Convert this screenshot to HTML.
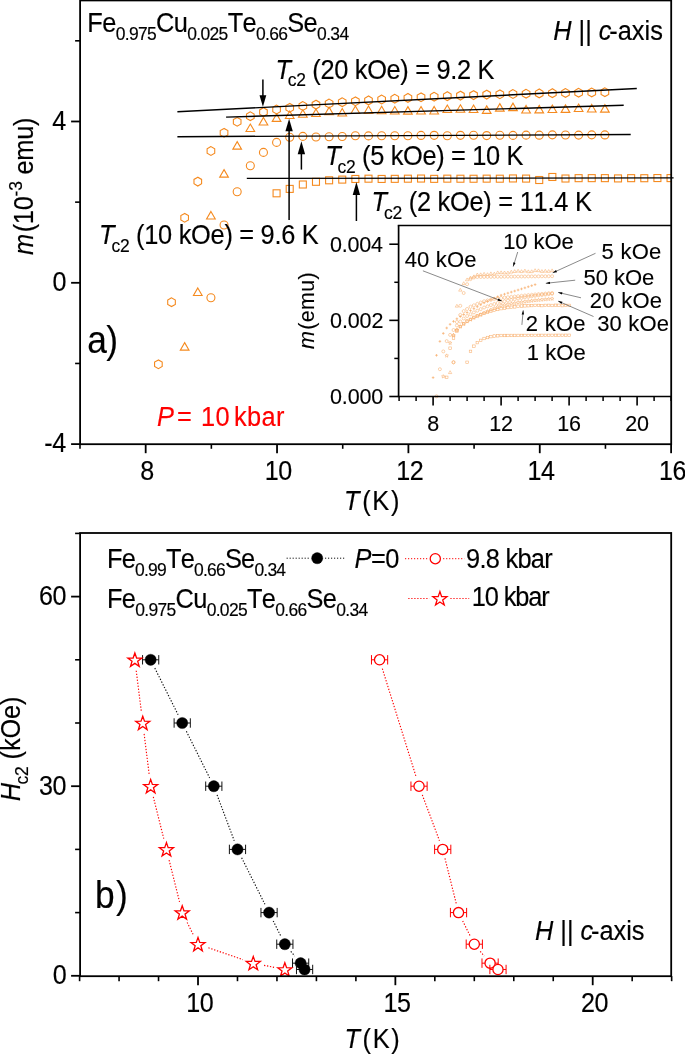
<!DOCTYPE html>
<html><head><meta charset="utf-8"><title>Figure</title>
<style>html,body{margin:0;padding:0;background:#fff;}svg{display:block;}</style></head>
<body><svg width="685" height="1054" viewBox="0 0 685 1054" font-family="'Liberation Sans', sans-serif" style="font-kerning:none">
<rect width="685" height="1054" fill="#fff"/>
<g id="panelA">
<clipPath id="clipA"><rect x="80.1" y="0" width="591.10" height="444.20"/></clipPath>
<g clip-path="url(#clipA)">
<polygon points="158.39,359.90 154.58,362.10 154.58,366.50 158.39,368.70 162.20,366.50 162.20,362.10" fill="none" stroke="#f58a1f" stroke-width="1.1"/>
<polygon points="171.52,297.80 167.71,300.00 167.71,304.40 171.52,306.60 175.33,304.40 175.33,300.00" fill="none" stroke="#f58a1f" stroke-width="1.1"/>
<polygon points="184.66,213.40 180.85,215.60 180.85,220.00 184.66,222.20 188.47,220.00 188.47,215.60" fill="none" stroke="#f58a1f" stroke-width="1.1"/>
<polygon points="197.79,177.20 193.98,179.40 193.98,183.80 197.79,186.00 201.60,183.80 201.60,179.40" fill="none" stroke="#f58a1f" stroke-width="1.1"/>
<polygon points="210.92,146.60 207.11,148.80 207.11,153.20 210.92,155.40 214.73,153.20 214.73,148.80" fill="none" stroke="#f58a1f" stroke-width="1.1"/>
<polygon points="224.05,128.40 220.24,130.60 220.24,135.00 224.05,137.20 227.86,135.00 227.86,130.60" fill="none" stroke="#f58a1f" stroke-width="1.1"/>
<polygon points="237.18,117.40 233.37,119.60 233.37,124.00 237.18,126.20 240.99,124.00 240.99,119.60" fill="none" stroke="#f58a1f" stroke-width="1.1"/>
<polygon points="250.32,111.80 246.51,114.00 246.51,118.40 250.32,120.60 254.13,118.40 254.13,114.00" fill="none" stroke="#f58a1f" stroke-width="1.1"/>
<polygon points="263.45,107.70 259.64,109.90 259.64,114.30 263.45,116.50 267.26,114.30 267.26,109.90" fill="none" stroke="#f58a1f" stroke-width="1.1"/>
<polygon points="276.58,105.10 272.77,107.30 272.77,111.70 276.58,113.90 280.39,111.70 280.39,107.30" fill="none" stroke="#f58a1f" stroke-width="1.1"/>
<polygon points="289.71,103.40 285.90,105.60 285.90,110.00 289.71,112.20 293.52,110.00 293.52,105.60" fill="none" stroke="#f58a1f" stroke-width="1.1"/>
<polygon points="302.84,101.60 299.03,103.80 299.03,108.20 302.84,110.40 306.65,108.20 306.65,103.80" fill="none" stroke="#f58a1f" stroke-width="1.1"/>
<polygon points="315.98,100.20 312.17,102.40 312.17,106.80 315.98,109.00 319.79,106.80 319.79,102.40" fill="none" stroke="#f58a1f" stroke-width="1.1"/>
<polygon points="329.11,99.10 325.30,101.30 325.30,105.70 329.11,107.90 332.92,105.70 332.92,101.30" fill="none" stroke="#f58a1f" stroke-width="1.1"/>
<polygon points="342.24,97.80 338.43,100.00 338.43,104.40 342.24,106.60 346.05,104.40 346.05,100.00" fill="none" stroke="#f58a1f" stroke-width="1.1"/>
<polygon points="355.37,96.90 351.56,99.10 351.56,103.50 355.37,105.70 359.18,103.50 359.18,99.10" fill="none" stroke="#f58a1f" stroke-width="1.1"/>
<polygon points="368.50,96.00 364.69,98.20 364.69,102.60 368.50,104.80 372.31,102.60 372.31,98.20" fill="none" stroke="#f58a1f" stroke-width="1.1"/>
<polygon points="381.64,95.10 377.83,97.30 377.83,101.70 381.64,103.90 385.45,101.70 385.45,97.30" fill="none" stroke="#f58a1f" stroke-width="1.1"/>
<polygon points="394.77,94.30 390.96,96.50 390.96,100.90 394.77,103.10 398.58,100.90 398.58,96.50" fill="none" stroke="#f58a1f" stroke-width="1.1"/>
<polygon points="407.90,93.50 404.09,95.70 404.09,100.10 407.90,102.30 411.71,100.10 411.71,95.70" fill="none" stroke="#f58a1f" stroke-width="1.1"/>
<polygon points="421.03,92.90 417.22,95.10 417.22,99.50 421.03,101.70 424.84,99.50 424.84,95.10" fill="none" stroke="#f58a1f" stroke-width="1.1"/>
<polygon points="434.16,92.30 430.35,94.50 430.35,98.90 434.16,101.10 437.97,98.90 437.97,94.50" fill="none" stroke="#f58a1f" stroke-width="1.1"/>
<polygon points="447.30,91.75 443.49,93.95 443.49,98.35 447.30,100.55 451.11,98.35 451.11,93.95" fill="none" stroke="#f58a1f" stroke-width="1.1"/>
<polygon points="460.43,91.20 456.62,93.40 456.62,97.80 460.43,100.00 464.24,97.80 464.24,93.40" fill="none" stroke="#f58a1f" stroke-width="1.1"/>
<polygon points="473.56,90.70 469.75,92.90 469.75,97.30 473.56,99.50 477.37,97.30 477.37,92.90" fill="none" stroke="#f58a1f" stroke-width="1.1"/>
<polygon points="486.69,90.20 482.88,92.40 482.88,96.80 486.69,99.00 490.50,96.80 490.50,92.40" fill="none" stroke="#f58a1f" stroke-width="1.1"/>
<polygon points="499.82,89.90 496.01,92.10 496.01,96.50 499.82,98.70 503.63,96.50 503.63,92.10" fill="none" stroke="#f58a1f" stroke-width="1.1"/>
<polygon points="512.96,89.60 509.15,91.80 509.15,96.20 512.96,98.40 516.77,96.20 516.77,91.80" fill="none" stroke="#f58a1f" stroke-width="1.1"/>
<polygon points="526.09,89.30 522.28,91.50 522.28,95.90 526.09,98.10 529.90,95.90 529.90,91.50" fill="none" stroke="#f58a1f" stroke-width="1.1"/>
<polygon points="539.22,89.00 535.41,91.20 535.41,95.60 539.22,97.80 543.03,95.60 543.03,91.20" fill="none" stroke="#f58a1f" stroke-width="1.1"/>
<polygon points="552.35,88.76 548.54,90.96 548.54,95.36 552.35,97.56 556.16,95.36 556.16,90.96" fill="none" stroke="#f58a1f" stroke-width="1.1"/>
<polygon points="565.48,88.52 561.67,90.72 561.67,95.12 565.48,97.32 569.29,95.12 569.29,90.72" fill="none" stroke="#f58a1f" stroke-width="1.1"/>
<polygon points="578.62,88.28 574.81,90.48 574.81,94.88 578.62,97.08 582.43,94.88 582.43,90.48" fill="none" stroke="#f58a1f" stroke-width="1.1"/>
<polygon points="591.75,88.04 587.94,90.24 587.94,94.64 591.75,96.84 595.56,94.64 595.56,90.24" fill="none" stroke="#f58a1f" stroke-width="1.1"/>
<polygon points="604.88,87.80 601.07,90.00 601.07,94.40 604.88,96.60 608.69,94.40 608.69,90.00" fill="none" stroke="#f58a1f" stroke-width="1.1"/>
<polygon points="184.66,342.65 189.01,350.15 180.31,350.15" fill="none" stroke="#f58a1f" stroke-width="1.1"/>
<polygon points="197.79,287.95 202.14,295.45 193.44,295.45" fill="none" stroke="#f58a1f" stroke-width="1.1"/>
<polygon points="210.92,211.45 215.27,218.95 206.57,218.95" fill="none" stroke="#f58a1f" stroke-width="1.1"/>
<polygon points="224.05,169.65 228.40,177.15 219.70,177.15" fill="none" stroke="#f58a1f" stroke-width="1.1"/>
<polygon points="237.18,141.65 241.53,149.15 232.83,149.15" fill="none" stroke="#f58a1f" stroke-width="1.1"/>
<polygon points="250.32,124.05 254.67,131.55 245.97,131.55" fill="none" stroke="#f58a1f" stroke-width="1.1"/>
<polygon points="263.45,117.45 267.80,124.95 259.10,124.95" fill="none" stroke="#f58a1f" stroke-width="1.1"/>
<polygon points="276.58,113.85 280.93,121.35 272.23,121.35" fill="none" stroke="#f58a1f" stroke-width="1.1"/>
<polygon points="289.71,111.05 294.06,118.55 285.36,118.55" fill="none" stroke="#f58a1f" stroke-width="1.1"/>
<polygon points="302.84,109.75 307.19,117.25 298.49,117.25" fill="none" stroke="#f58a1f" stroke-width="1.1"/>
<polygon points="315.98,108.95 320.33,116.45 311.63,116.45" fill="none" stroke="#f58a1f" stroke-width="1.1"/>
<polygon points="329.11,107.15 333.46,114.65 324.76,114.65" fill="none" stroke="#f58a1f" stroke-width="1.1"/>
<polygon points="342.24,108.55 346.59,116.05 337.89,116.05" fill="none" stroke="#f58a1f" stroke-width="1.1"/>
<polygon points="355.37,106.05 359.72,113.55 351.02,113.55" fill="none" stroke="#f58a1f" stroke-width="1.1"/>
<polygon points="368.50,106.05 372.85,113.55 364.15,113.55" fill="none" stroke="#f58a1f" stroke-width="1.1"/>
<polygon points="381.64,106.25 385.99,113.75 377.29,113.75" fill="none" stroke="#f58a1f" stroke-width="1.1"/>
<polygon points="394.77,106.55 399.12,114.05 390.42,114.05" fill="none" stroke="#f58a1f" stroke-width="1.1"/>
<polygon points="407.90,106.65 412.25,114.15 403.55,114.15" fill="none" stroke="#f58a1f" stroke-width="1.1"/>
<polygon points="421.03,106.55 425.38,114.05 416.68,114.05" fill="none" stroke="#f58a1f" stroke-width="1.1"/>
<polygon points="434.16,106.45 438.51,113.95 429.81,113.95" fill="none" stroke="#f58a1f" stroke-width="1.1"/>
<polygon points="447.30,105.05 451.65,112.55 442.95,112.55" fill="none" stroke="#f58a1f" stroke-width="1.1"/>
<polygon points="460.43,104.75 464.78,112.25 456.08,112.25" fill="none" stroke="#f58a1f" stroke-width="1.1"/>
<polygon points="473.56,105.05 477.91,112.55 469.21,112.55" fill="none" stroke="#f58a1f" stroke-width="1.1"/>
<polygon points="486.69,105.85 491.04,113.35 482.34,113.35" fill="none" stroke="#f58a1f" stroke-width="1.1"/>
<polygon points="499.82,103.65 504.17,111.15 495.47,111.15" fill="none" stroke="#f58a1f" stroke-width="1.1"/>
<polygon points="512.96,103.15 517.31,110.65 508.61,110.65" fill="none" stroke="#f58a1f" stroke-width="1.1"/>
<polygon points="526.09,105.45 530.44,112.95 521.74,112.95" fill="none" stroke="#f58a1f" stroke-width="1.1"/>
<polygon points="539.22,105.35 543.57,112.85 534.87,112.85" fill="none" stroke="#f58a1f" stroke-width="1.1"/>
<polygon points="552.35,105.05 556.70,112.55 548.00,112.55" fill="none" stroke="#f58a1f" stroke-width="1.1"/>
<polygon points="565.48,104.85 569.83,112.35 561.13,112.35" fill="none" stroke="#f58a1f" stroke-width="1.1"/>
<polygon points="578.62,104.05 582.97,111.55 574.27,111.55" fill="none" stroke="#f58a1f" stroke-width="1.1"/>
<polygon points="591.75,104.45 596.10,111.95 587.40,111.95" fill="none" stroke="#f58a1f" stroke-width="1.1"/>
<polygon points="604.88,104.65 609.23,112.15 600.53,112.15" fill="none" stroke="#f58a1f" stroke-width="1.1"/>
<circle cx="210.92" cy="297.80" r="4.0" fill="none" stroke="#f58a1f" stroke-width="1.1"/>
<circle cx="224.05" cy="225.00" r="4.0" fill="none" stroke="#f58a1f" stroke-width="1.1"/>
<circle cx="237.18" cy="191.80" r="4.0" fill="none" stroke="#f58a1f" stroke-width="1.1"/>
<circle cx="250.32" cy="165.80" r="4.0" fill="none" stroke="#f58a1f" stroke-width="1.1"/>
<circle cx="263.45" cy="152.40" r="4.0" fill="none" stroke="#f58a1f" stroke-width="1.1"/>
<circle cx="276.58" cy="142.40" r="4.0" fill="none" stroke="#f58a1f" stroke-width="1.1"/>
<circle cx="289.71" cy="137.20" r="4.0" fill="none" stroke="#f58a1f" stroke-width="1.1"/>
<circle cx="302.84" cy="136.40" r="4.0" fill="none" stroke="#f58a1f" stroke-width="1.1"/>
<circle cx="315.98" cy="137.00" r="4.0" fill="none" stroke="#f58a1f" stroke-width="1.1"/>
<circle cx="329.11" cy="136.80" r="4.0" fill="none" stroke="#f58a1f" stroke-width="1.1"/>
<circle cx="342.24" cy="136.50" r="4.0" fill="none" stroke="#f58a1f" stroke-width="1.1"/>
<circle cx="355.37" cy="135.81" r="4.0" fill="none" stroke="#f58a1f" stroke-width="1.1"/>
<circle cx="368.50" cy="135.90" r="4.0" fill="none" stroke="#f58a1f" stroke-width="1.1"/>
<circle cx="381.64" cy="135.75" r="4.0" fill="none" stroke="#f58a1f" stroke-width="1.1"/>
<circle cx="394.77" cy="135.81" r="4.0" fill="none" stroke="#f58a1f" stroke-width="1.1"/>
<circle cx="407.90" cy="135.76" r="4.0" fill="none" stroke="#f58a1f" stroke-width="1.1"/>
<circle cx="421.03" cy="135.42" r="4.0" fill="none" stroke="#f58a1f" stroke-width="1.1"/>
<circle cx="434.16" cy="135.34" r="4.0" fill="none" stroke="#f58a1f" stroke-width="1.1"/>
<circle cx="447.30" cy="135.69" r="4.0" fill="none" stroke="#f58a1f" stroke-width="1.1"/>
<circle cx="460.43" cy="135.34" r="4.0" fill="none" stroke="#f58a1f" stroke-width="1.1"/>
<circle cx="473.56" cy="135.27" r="4.0" fill="none" stroke="#f58a1f" stroke-width="1.1"/>
<circle cx="486.69" cy="135.59" r="4.0" fill="none" stroke="#f58a1f" stroke-width="1.1"/>
<circle cx="499.82" cy="135.27" r="4.0" fill="none" stroke="#f58a1f" stroke-width="1.1"/>
<circle cx="512.96" cy="135.39" r="4.0" fill="none" stroke="#f58a1f" stroke-width="1.1"/>
<circle cx="526.09" cy="135.15" r="4.0" fill="none" stroke="#f58a1f" stroke-width="1.1"/>
<circle cx="539.22" cy="135.17" r="4.0" fill="none" stroke="#f58a1f" stroke-width="1.1"/>
<circle cx="552.35" cy="134.87" r="4.0" fill="none" stroke="#f58a1f" stroke-width="1.1"/>
<circle cx="565.48" cy="135.05" r="4.0" fill="none" stroke="#f58a1f" stroke-width="1.1"/>
<circle cx="578.62" cy="135.10" r="4.0" fill="none" stroke="#f58a1f" stroke-width="1.1"/>
<circle cx="591.75" cy="134.87" r="4.0" fill="none" stroke="#f58a1f" stroke-width="1.1"/>
<circle cx="604.88" cy="134.92" r="4.0" fill="none" stroke="#f58a1f" stroke-width="1.1"/>
<rect x="273.08" y="189.80" width="7.0" height="7.0" fill="none" stroke="#f58a1f" stroke-width="1.1"/>
<rect x="286.21" y="185.40" width="7.0" height="7.0" fill="none" stroke="#f58a1f" stroke-width="1.1"/>
<rect x="299.34" y="181.00" width="7.0" height="7.0" fill="none" stroke="#f58a1f" stroke-width="1.1"/>
<rect x="312.48" y="178.30" width="7.0" height="7.0" fill="none" stroke="#f58a1f" stroke-width="1.1"/>
<rect x="325.61" y="176.80" width="7.0" height="7.0" fill="none" stroke="#f58a1f" stroke-width="1.1"/>
<rect x="338.74" y="176.10" width="7.0" height="7.0" fill="none" stroke="#f58a1f" stroke-width="1.1"/>
<rect x="351.87" y="175.47" width="7.0" height="7.0" fill="none" stroke="#f58a1f" stroke-width="1.1"/>
<rect x="365.00" y="175.19" width="7.0" height="7.0" fill="none" stroke="#f58a1f" stroke-width="1.1"/>
<rect x="378.14" y="175.44" width="7.0" height="7.0" fill="none" stroke="#f58a1f" stroke-width="1.1"/>
<rect x="391.27" y="175.34" width="7.0" height="7.0" fill="none" stroke="#f58a1f" stroke-width="1.1"/>
<rect x="404.40" y="175.19" width="7.0" height="7.0" fill="none" stroke="#f58a1f" stroke-width="1.1"/>
<rect x="417.53" y="175.05" width="7.0" height="7.0" fill="none" stroke="#f58a1f" stroke-width="1.1"/>
<rect x="430.66" y="175.35" width="7.0" height="7.0" fill="none" stroke="#f58a1f" stroke-width="1.1"/>
<rect x="443.80" y="175.16" width="7.0" height="7.0" fill="none" stroke="#f58a1f" stroke-width="1.1"/>
<rect x="456.93" y="175.22" width="7.0" height="7.0" fill="none" stroke="#f58a1f" stroke-width="1.1"/>
<rect x="470.06" y="175.25" width="7.0" height="7.0" fill="none" stroke="#f58a1f" stroke-width="1.1"/>
<rect x="483.19" y="175.15" width="7.0" height="7.0" fill="none" stroke="#f58a1f" stroke-width="1.1"/>
<rect x="496.32" y="175.20" width="7.0" height="7.0" fill="none" stroke="#f58a1f" stroke-width="1.1"/>
<rect x="509.46" y="174.96" width="7.0" height="7.0" fill="none" stroke="#f58a1f" stroke-width="1.1"/>
<rect x="522.59" y="175.09" width="7.0" height="7.0" fill="none" stroke="#f58a1f" stroke-width="1.1"/>
<rect x="535.72" y="176.51" width="7.0" height="7.0" fill="none" stroke="#f58a1f" stroke-width="1.1"/>
<rect x="548.85" y="173.47" width="7.0" height="7.0" fill="none" stroke="#f58a1f" stroke-width="1.1"/>
<rect x="561.98" y="175.02" width="7.0" height="7.0" fill="none" stroke="#f58a1f" stroke-width="1.1"/>
<rect x="575.12" y="174.67" width="7.0" height="7.0" fill="none" stroke="#f58a1f" stroke-width="1.1"/>
<rect x="588.25" y="174.65" width="7.0" height="7.0" fill="none" stroke="#f58a1f" stroke-width="1.1"/>
<rect x="601.38" y="174.65" width="7.0" height="7.0" fill="none" stroke="#f58a1f" stroke-width="1.1"/>
<rect x="614.51" y="174.92" width="7.0" height="7.0" fill="none" stroke="#f58a1f" stroke-width="1.1"/>
<rect x="627.64" y="174.67" width="7.0" height="7.0" fill="none" stroke="#f58a1f" stroke-width="1.1"/>
<rect x="640.78" y="174.72" width="7.0" height="7.0" fill="none" stroke="#f58a1f" stroke-width="1.1"/>
<rect x="653.91" y="174.55" width="7.0" height="7.0" fill="none" stroke="#f58a1f" stroke-width="1.1"/>
<rect x="667.04" y="174.60" width="7.0" height="7.0" fill="none" stroke="#f58a1f" stroke-width="1.1"/>
</g>
<line x1="177.40" y1="111.80" x2="636.80" y2="88.50" stroke="#000" stroke-width="1.4" />
<line x1="226.10" y1="117.10" x2="623.70" y2="105.30" stroke="#000" stroke-width="1.4" />
<line x1="177.40" y1="136.70" x2="630.70" y2="134.50" stroke="#000" stroke-width="1.4" />
<line x1="246.80" y1="178.30" x2="673.60" y2="177.90" stroke="#000" stroke-width="1.2" />
<line x1="262.90" y1="79.50" x2="262.90" y2="97.60" stroke="#000" stroke-width="1.5" />
<polygon points="262.90,106.80 259.50,95.30 266.30,95.30" fill="#000"/>
<line x1="289.10" y1="220.00" x2="289.10" y2="128.70" stroke="#000" stroke-width="1.5" />
<polygon points="289.10,118.70 285.40,131.20 292.80,131.20" fill="#000"/>
<line x1="301.40" y1="169.60" x2="301.40" y2="151.60" stroke="#000" stroke-width="1.5" />
<polygon points="301.40,141.20 297.70,154.20 305.10,154.20" fill="#000"/>
<line x1="356.40" y1="221.00" x2="356.40" y2="192.40" stroke="#000" stroke-width="1.5" />
<polygon points="356.40,182.00 352.70,195.00 360.10,195.00" fill="#000"/>
<rect x="80.1" y="0.45" width="591.10" height="443.75" fill="none" stroke="#000" stroke-width="1.8"/>
<line x1="71.10" y1="444.12" x2="80.10" y2="444.12" stroke="#000" stroke-width="1.8" />
<line x1="75.10" y1="363.46" x2="80.10" y2="363.46" stroke="#000" stroke-width="1.6" />
<line x1="71.10" y1="282.80" x2="80.10" y2="282.80" stroke="#000" stroke-width="1.8" />
<line x1="75.10" y1="202.14" x2="80.10" y2="202.14" stroke="#000" stroke-width="1.6" />
<line x1="71.10" y1="121.48" x2="80.10" y2="121.48" stroke="#000" stroke-width="1.8" />
<line x1="75.10" y1="40.82" x2="80.10" y2="40.82" stroke="#000" stroke-width="1.6" />
<line x1="80.00" y1="444.20" x2="80.00" y2="448.80" stroke="#000" stroke-width="1.6" />
<line x1="145.68" y1="444.20" x2="145.68" y2="453.20" stroke="#000" stroke-width="1.8" />
<line x1="211.36" y1="444.20" x2="211.36" y2="448.80" stroke="#000" stroke-width="1.6" />
<line x1="277.04" y1="444.20" x2="277.04" y2="453.20" stroke="#000" stroke-width="1.8" />
<line x1="342.72" y1="444.20" x2="342.72" y2="448.80" stroke="#000" stroke-width="1.6" />
<line x1="408.40" y1="444.20" x2="408.40" y2="453.20" stroke="#000" stroke-width="1.8" />
<line x1="474.08" y1="444.20" x2="474.08" y2="448.80" stroke="#000" stroke-width="1.6" />
<line x1="539.76" y1="444.20" x2="539.76" y2="453.20" stroke="#000" stroke-width="1.8" />
<line x1="605.44" y1="444.20" x2="605.44" y2="448.80" stroke="#000" stroke-width="1.6" />
<line x1="671.12" y1="444.20" x2="671.12" y2="453.20" stroke="#000" stroke-width="1.8" />
<text transform="translate(65.40 129.58) scale(0.93 1)" x="-14.23" y="0" font-size="27" fill="#000" stroke="#000" stroke-width="0.17" letter-spacing="-0.500" ><tspan>4</tspan></text>
<text transform="translate(65.40 290.90) scale(0.93 1)" x="-13.96" y="0" font-size="27" fill="#000" stroke="#000" stroke-width="0.17" letter-spacing="-0.500" ><tspan>0</tspan></text>
<text transform="translate(65.40 452.22) scale(0.93 1)" x="-22.72" y="0" font-size="27" fill="#000" stroke="#000" stroke-width="0.17" letter-spacing="-0.500" ><tspan>-4</tspan></text>
<text transform="translate(147.18 480.20) scale(0.93 1)" x="-7.51" y="0" font-size="27" fill="#000" stroke="#000" stroke-width="0.17" letter-spacing="-0.500" ><tspan>8</tspan></text>
<text transform="translate(278.54 480.20) scale(0.93 1)" x="-14.77" y="0" font-size="27" fill="#000" stroke="#000" stroke-width="0.17" letter-spacing="-0.500" ><tspan>10</tspan></text>
<text transform="translate(409.90 480.20) scale(0.93 1)" x="-14.77" y="0" font-size="27" fill="#000" stroke="#000" stroke-width="0.17" letter-spacing="-0.500" ><tspan>12</tspan></text>
<text transform="translate(541.26 480.20) scale(0.93 1)" x="-14.77" y="0" font-size="27" fill="#000" stroke="#000" stroke-width="0.17" letter-spacing="-0.500" ><tspan>14</tspan></text>
<text transform="translate(672.62 480.20) scale(0.93 1)" x="-14.77" y="0" font-size="27" fill="#000" stroke="#000" stroke-width="0.17" letter-spacing="-0.500" ><tspan>16</tspan></text>
<text transform="translate(346.30 510.30) scale(0.93 1)" x="-2.45" y="0" font-size="27.3" fill="#000" stroke="#000" stroke-width="0.17" letter-spacing="1.818" ><tspan font-style="italic">T</tspan><tspan dx="1">(K)</tspan></text>
<text transform="translate(32.70 254.70) rotate(-90) scale(0.93 1)" x="-0.45" y="0" font-size="27.3" fill="#000" stroke="#000" stroke-width="0.17" letter-spacing="-0.267" ><tspan font-style="italic">m</tspan><tspan dx="2">(10</tspan><tspan font-size="18.8" dy="-10.92">-3</tspan><tspan dy="10.92"> emu)</tspan></text>
<text transform="translate(89.40 31.70) scale(0.93 1)" x="-2.24" y="0" font-size="27.3" fill="#000" stroke="#000" stroke-width="0.17" letter-spacing="-0.707" ><tspan>Fe</tspan><tspan font-size="18.8" dy="7.92">0.975</tspan><tspan dy="-7.92">Cu</tspan><tspan font-size="18.8" dy="7.92">0.025</tspan><tspan dy="-7.92">Te</tspan><tspan font-size="18.8" dy="7.92">0.66</tspan><tspan dy="-7.92">Se</tspan><tspan font-size="18.8" dy="7.92">0.34</tspan></text>
<text transform="translate(553.90 39.60) scale(0.93 1)" x="-0.84" y="0" font-size="27.3" fill="#000" stroke="#000" stroke-width="0.17" letter-spacing="0.021" ><tspan font-style="italic">H</tspan><tspan> || </tspan><tspan font-style="italic">c</tspan><tspan dx="-2.5">-axis</tspan></text>
<text transform="translate(277.70 78.50) scale(0.93 1)" x="-2.45" y="0" font-size="27.3" fill="#000" stroke="#000" stroke-width="0.17" letter-spacing="-0.350" ><tspan font-style="italic">T</tspan><tspan font-size="18.8" dy="7.92" dx="-3">c2</tspan><tspan dy="-7.92"> (20 kOe) = 9.2 K</tspan></text>
<text transform="translate(327.40 164.60) scale(0.93 1)" x="-2.45" y="0" font-size="27.3" fill="#000" stroke="#000" stroke-width="0.17" letter-spacing="-0.355" ><tspan font-style="italic">T</tspan><tspan font-size="18.8" dy="7.92" dx="-3">c2</tspan><tspan dy="-7.92"> (5 kOe) = 10 K</tspan></text>
<text transform="translate(373.80 211.20) scale(0.93 1)" x="-2.45" y="0" font-size="27.3" fill="#000" stroke="#000" stroke-width="0.17" letter-spacing="-0.277" ><tspan font-style="italic">T</tspan><tspan font-size="18.8" dy="7.92" dx="-3">c2</tspan><tspan dy="-7.92"> (2 kOe) = 11.4 K</tspan></text>
<text transform="translate(101.30 243.80) scale(0.93 1)" x="-2.45" y="0" font-size="27.3" fill="#000" stroke="#000" stroke-width="0.17" letter-spacing="-0.311" ><tspan font-style="italic">T</tspan><tspan font-size="18.8" dy="7.92" dx="-3">c2</tspan><tspan dy="-7.92"> (10 kOe) = 9.6 K</tspan></text>
<text transform="translate(88.80 353.10) scale(0.93 1)" x="-1.61" y="0" font-size="38" fill="#000" stroke="#000" stroke-width="0.17" letter-spacing="-0.785" ><tspan>a)</tspan></text>
<text transform="translate(157.80 425.60) scale(0.93 1)" x="-0.84" y="0" font-size="27.3" fill="#ff0000" stroke="#ff0000" stroke-width="0.17" letter-spacing="0.355" ><tspan font-style="italic">P</tspan><tspan dx="3">=</tspan><tspan dx="1.5"> 10</tspan><tspan dx="-3.5"> kbar</tspan></text>
</g>
<g id="inset">
<rect x="465.83" y="361.03" width="2.55" height="2.55" fill="none" stroke="#f8ae6c" stroke-width="0.55"/>
<rect x="469.23" y="350.12" width="2.55" height="2.55" fill="none" stroke="#f8ae6c" stroke-width="0.55"/>
<rect x="472.63" y="344.93" width="2.55" height="2.55" fill="none" stroke="#f8ae6c" stroke-width="0.55"/>
<rect x="476.03" y="341.33" width="2.55" height="2.55" fill="none" stroke="#f8ae6c" stroke-width="0.55"/>
<rect x="479.43" y="339.12" width="2.55" height="2.55" fill="none" stroke="#f8ae6c" stroke-width="0.55"/>
<rect x="482.83" y="337.23" width="2.55" height="2.55" fill="none" stroke="#f8ae6c" stroke-width="0.55"/>
<rect x="486.23" y="336.23" width="2.55" height="2.55" fill="none" stroke="#f8ae6c" stroke-width="0.55"/>
<rect x="489.63" y="335.33" width="2.55" height="2.55" fill="none" stroke="#f8ae6c" stroke-width="0.55"/>
<rect x="493.03" y="334.73" width="2.55" height="2.55" fill="none" stroke="#f8ae6c" stroke-width="0.55"/>
<rect x="496.43" y="334.48" width="2.55" height="2.55" fill="none" stroke="#f8ae6c" stroke-width="0.55"/>
<rect x="499.83" y="334.23" width="2.55" height="2.55" fill="none" stroke="#f8ae6c" stroke-width="0.55"/>
<rect x="503.23" y="334.22" width="2.55" height="2.55" fill="none" stroke="#f8ae6c" stroke-width="0.55"/>
<rect x="506.63" y="334.21" width="2.55" height="2.55" fill="none" stroke="#f8ae6c" stroke-width="0.55"/>
<rect x="510.03" y="334.19" width="2.55" height="2.55" fill="none" stroke="#f8ae6c" stroke-width="0.55"/>
<rect x="513.43" y="334.19" width="2.55" height="2.55" fill="none" stroke="#f8ae6c" stroke-width="0.55"/>
<rect x="516.83" y="334.18" width="2.55" height="2.55" fill="none" stroke="#f8ae6c" stroke-width="0.55"/>
<rect x="520.23" y="334.17" width="2.55" height="2.55" fill="none" stroke="#f8ae6c" stroke-width="0.55"/>
<rect x="523.63" y="334.16" width="2.55" height="2.55" fill="none" stroke="#f8ae6c" stroke-width="0.55"/>
<rect x="527.02" y="334.15" width="2.55" height="2.55" fill="none" stroke="#f8ae6c" stroke-width="0.55"/>
<rect x="530.43" y="334.14" width="2.55" height="2.55" fill="none" stroke="#f8ae6c" stroke-width="0.55"/>
<rect x="533.83" y="334.12" width="2.55" height="2.55" fill="none" stroke="#f8ae6c" stroke-width="0.55"/>
<rect x="537.23" y="334.12" width="2.55" height="2.55" fill="none" stroke="#f8ae6c" stroke-width="0.55"/>
<rect x="540.63" y="334.11" width="2.55" height="2.55" fill="none" stroke="#f8ae6c" stroke-width="0.55"/>
<rect x="544.02" y="334.10" width="2.55" height="2.55" fill="none" stroke="#f8ae6c" stroke-width="0.55"/>
<rect x="547.43" y="334.09" width="2.55" height="2.55" fill="none" stroke="#f8ae6c" stroke-width="0.55"/>
<rect x="550.83" y="334.08" width="2.55" height="2.55" fill="none" stroke="#f8ae6c" stroke-width="0.55"/>
<rect x="554.23" y="334.07" width="2.55" height="2.55" fill="none" stroke="#f8ae6c" stroke-width="0.55"/>
<rect x="557.63" y="334.06" width="2.55" height="2.55" fill="none" stroke="#f8ae6c" stroke-width="0.55"/>
<rect x="561.02" y="334.05" width="2.55" height="2.55" fill="none" stroke="#f8ae6c" stroke-width="0.55"/>
<rect x="564.43" y="334.04" width="2.55" height="2.55" fill="none" stroke="#f8ae6c" stroke-width="0.55"/>
<rect x="567.83" y="334.03" width="2.55" height="2.55" fill="none" stroke="#f8ae6c" stroke-width="0.55"/>
<rect x="445.43" y="376.07" width="2.55" height="2.55" fill="none" stroke="#f8ae6c" stroke-width="0.55"/>
<rect x="448.83" y="346.94" width="2.55" height="2.55" fill="none" stroke="#f8ae6c" stroke-width="0.55"/>
<rect x="452.23" y="336.81" width="2.55" height="2.55" fill="none" stroke="#f8ae6c" stroke-width="0.55"/>
<rect x="455.63" y="329.66" width="2.55" height="2.55" fill="none" stroke="#f8ae6c" stroke-width="0.55"/>
<rect x="459.03" y="325.38" width="2.55" height="2.55" fill="none" stroke="#f8ae6c" stroke-width="0.55"/>
<rect x="462.43" y="322.42" width="2.55" height="2.55" fill="none" stroke="#f8ae6c" stroke-width="0.55"/>
<rect x="465.83" y="319.73" width="2.55" height="2.55" fill="none" stroke="#f8ae6c" stroke-width="0.55"/>
<rect x="469.23" y="318.12" width="2.55" height="2.55" fill="none" stroke="#f8ae6c" stroke-width="0.55"/>
<rect x="472.63" y="316.05" width="2.55" height="2.55" fill="none" stroke="#f8ae6c" stroke-width="0.55"/>
<rect x="476.03" y="314.46" width="2.55" height="2.55" fill="none" stroke="#f8ae6c" stroke-width="0.55"/>
<rect x="479.43" y="313.46" width="2.55" height="2.55" fill="none" stroke="#f8ae6c" stroke-width="0.55"/>
<rect x="482.83" y="312.04" width="2.55" height="2.55" fill="none" stroke="#f8ae6c" stroke-width="0.55"/>
<rect x="486.23" y="311.02" width="2.55" height="2.55" fill="none" stroke="#f8ae6c" stroke-width="0.55"/>
<rect x="489.63" y="310.03" width="2.55" height="2.55" fill="none" stroke="#f8ae6c" stroke-width="0.55"/>
<rect x="493.03" y="309.17" width="2.55" height="2.55" fill="none" stroke="#f8ae6c" stroke-width="0.55"/>
<rect x="496.43" y="308.19" width="2.55" height="2.55" fill="none" stroke="#f8ae6c" stroke-width="0.55"/>
<rect x="499.83" y="307.34" width="2.55" height="2.55" fill="none" stroke="#f8ae6c" stroke-width="0.55"/>
<rect x="503.23" y="307.07" width="2.55" height="2.55" fill="none" stroke="#f8ae6c" stroke-width="0.55"/>
<rect x="506.63" y="306.25" width="2.55" height="2.55" fill="none" stroke="#f8ae6c" stroke-width="0.55"/>
<rect x="510.03" y="306.01" width="2.55" height="2.55" fill="none" stroke="#f8ae6c" stroke-width="0.55"/>
<rect x="513.43" y="305.58" width="2.55" height="2.55" fill="none" stroke="#f8ae6c" stroke-width="0.55"/>
<rect x="516.83" y="304.98" width="2.55" height="2.55" fill="none" stroke="#f8ae6c" stroke-width="0.55"/>
<rect x="520.23" y="304.77" width="2.55" height="2.55" fill="none" stroke="#f8ae6c" stroke-width="0.55"/>
<rect x="523.63" y="304.55" width="2.55" height="2.55" fill="none" stroke="#f8ae6c" stroke-width="0.55"/>
<rect x="527.02" y="304.42" width="2.55" height="2.55" fill="none" stroke="#f8ae6c" stroke-width="0.55"/>
<rect x="530.43" y="304.28" width="2.55" height="2.55" fill="none" stroke="#f8ae6c" stroke-width="0.55"/>
<rect x="533.83" y="304.15" width="2.55" height="2.55" fill="none" stroke="#f8ae6c" stroke-width="0.55"/>
<rect x="537.23" y="304.17" width="2.55" height="2.55" fill="none" stroke="#f8ae6c" stroke-width="0.55"/>
<rect x="540.63" y="304.30" width="2.55" height="2.55" fill="none" stroke="#f8ae6c" stroke-width="0.55"/>
<rect x="544.02" y="304.13" width="2.55" height="2.55" fill="none" stroke="#f8ae6c" stroke-width="0.55"/>
<rect x="547.43" y="304.10" width="2.55" height="2.55" fill="none" stroke="#f8ae6c" stroke-width="0.55"/>
<rect x="550.83" y="304.21" width="2.55" height="2.55" fill="none" stroke="#f8ae6c" stroke-width="0.55"/>
<rect x="554.23" y="304.02" width="2.55" height="2.55" fill="none" stroke="#f8ae6c" stroke-width="0.55"/>
<rect x="557.63" y="304.05" width="2.55" height="2.55" fill="none" stroke="#f8ae6c" stroke-width="0.55"/>
<rect x="561.02" y="304.32" width="2.55" height="2.55" fill="none" stroke="#f8ae6c" stroke-width="0.55"/>
<rect x="564.43" y="304.13" width="2.55" height="2.55" fill="none" stroke="#f8ae6c" stroke-width="0.55"/>
<rect x="567.83" y="304.14" width="2.55" height="2.55" fill="none" stroke="#f8ae6c" stroke-width="0.55"/>
<circle cx="453.50" cy="362.30" r="1.5" fill="none" stroke="#f8ae6c" stroke-width="0.55"/>
<circle cx="456.90" cy="330.00" r="1.5" fill="none" stroke="#f8ae6c" stroke-width="0.55"/>
<circle cx="460.30" cy="305.80" r="1.5" fill="none" stroke="#f8ae6c" stroke-width="0.55"/>
<circle cx="463.70" cy="293.00" r="1.5" fill="none" stroke="#f8ae6c" stroke-width="0.55"/>
<circle cx="467.10" cy="284.20" r="1.5" fill="none" stroke="#f8ae6c" stroke-width="0.55"/>
<circle cx="470.50" cy="279.10" r="1.5" fill="none" stroke="#f8ae6c" stroke-width="0.55"/>
<circle cx="473.90" cy="277.50" r="1.5" fill="none" stroke="#f8ae6c" stroke-width="0.55"/>
<circle cx="477.30" cy="277.00" r="1.5" fill="none" stroke="#f8ae6c" stroke-width="0.55"/>
<circle cx="480.70" cy="276.96" r="1.5" fill="none" stroke="#f8ae6c" stroke-width="0.55"/>
<circle cx="484.10" cy="276.93" r="1.5" fill="none" stroke="#f8ae6c" stroke-width="0.55"/>
<circle cx="487.50" cy="276.89" r="1.5" fill="none" stroke="#f8ae6c" stroke-width="0.55"/>
<circle cx="490.90" cy="276.85" r="1.5" fill="none" stroke="#f8ae6c" stroke-width="0.55"/>
<circle cx="494.30" cy="276.82" r="1.5" fill="none" stroke="#f8ae6c" stroke-width="0.55"/>
<circle cx="497.70" cy="276.78" r="1.5" fill="none" stroke="#f8ae6c" stroke-width="0.55"/>
<circle cx="501.10" cy="276.75" r="1.5" fill="none" stroke="#f8ae6c" stroke-width="0.55"/>
<circle cx="504.50" cy="276.71" r="1.5" fill="none" stroke="#f8ae6c" stroke-width="0.55"/>
<circle cx="507.90" cy="276.67" r="1.5" fill="none" stroke="#f8ae6c" stroke-width="0.55"/>
<circle cx="511.30" cy="276.64" r="1.5" fill="none" stroke="#f8ae6c" stroke-width="0.55"/>
<circle cx="514.70" cy="276.60" r="1.5" fill="none" stroke="#f8ae6c" stroke-width="0.55"/>
<circle cx="518.10" cy="276.56" r="1.5" fill="none" stroke="#f8ae6c" stroke-width="0.55"/>
<circle cx="521.50" cy="276.53" r="1.5" fill="none" stroke="#f8ae6c" stroke-width="0.55"/>
<circle cx="524.90" cy="276.49" r="1.5" fill="none" stroke="#f8ae6c" stroke-width="0.55"/>
<circle cx="528.30" cy="276.45" r="1.5" fill="none" stroke="#f8ae6c" stroke-width="0.55"/>
<circle cx="531.70" cy="276.42" r="1.5" fill="none" stroke="#f8ae6c" stroke-width="0.55"/>
<circle cx="535.10" cy="276.38" r="1.5" fill="none" stroke="#f8ae6c" stroke-width="0.55"/>
<circle cx="538.50" cy="276.35" r="1.5" fill="none" stroke="#f8ae6c" stroke-width="0.55"/>
<circle cx="541.90" cy="276.31" r="1.5" fill="none" stroke="#f8ae6c" stroke-width="0.55"/>
<circle cx="545.30" cy="276.27" r="1.5" fill="none" stroke="#f8ae6c" stroke-width="0.55"/>
<circle cx="548.70" cy="276.24" r="1.5" fill="none" stroke="#f8ae6c" stroke-width="0.55"/>
<circle cx="552.10" cy="276.20" r="1.5" fill="none" stroke="#f8ae6c" stroke-width="0.55"/>
<polygon points="450.10,370.70 451.75,373.55 448.45,373.55" fill="none" stroke="#f8ae6c" stroke-width="0.55"/>
<polygon points="453.50,333.31 455.15,336.16 451.85,336.16" fill="none" stroke="#f8ae6c" stroke-width="0.55"/>
<polygon points="456.90,304.29 458.55,307.14 455.25,307.14" fill="none" stroke="#f8ae6c" stroke-width="0.55"/>
<polygon points="460.30,288.30 461.95,291.15 458.65,291.15" fill="none" stroke="#f8ae6c" stroke-width="0.55"/>
<polygon points="463.70,281.71 465.35,284.56 462.05,284.56" fill="none" stroke="#f8ae6c" stroke-width="0.55"/>
<polygon points="467.10,277.94 468.75,280.79 465.45,280.79" fill="none" stroke="#f8ae6c" stroke-width="0.55"/>
<polygon points="470.50,276.08 472.15,278.93 468.85,278.93" fill="none" stroke="#f8ae6c" stroke-width="0.55"/>
<polygon points="473.90,274.85 475.55,277.70 472.25,277.70" fill="none" stroke="#f8ae6c" stroke-width="0.55"/>
<polygon points="477.30,273.02 478.95,275.87 475.65,275.87" fill="none" stroke="#f8ae6c" stroke-width="0.55"/>
<polygon points="480.70,272.83 482.35,275.68 479.05,275.68" fill="none" stroke="#f8ae6c" stroke-width="0.55"/>
<polygon points="484.10,272.34 485.75,275.19 482.45,275.19" fill="none" stroke="#f8ae6c" stroke-width="0.55"/>
<polygon points="487.50,272.74 489.15,275.59 485.85,275.59" fill="none" stroke="#f8ae6c" stroke-width="0.55"/>
<polygon points="490.90,271.89 492.55,274.74 489.25,274.74" fill="none" stroke="#f8ae6c" stroke-width="0.55"/>
<polygon points="494.30,272.17 495.95,275.02 492.65,275.02" fill="none" stroke="#f8ae6c" stroke-width="0.55"/>
<polygon points="497.70,270.91 499.35,273.76 496.05,273.76" fill="none" stroke="#f8ae6c" stroke-width="0.55"/>
<polygon points="501.10,270.85 502.75,273.70 499.45,273.70" fill="none" stroke="#f8ae6c" stroke-width="0.55"/>
<polygon points="504.50,271.03 506.15,273.88 502.85,273.88" fill="none" stroke="#f8ae6c" stroke-width="0.55"/>
<polygon points="507.90,271.09 509.55,273.94 506.25,273.94" fill="none" stroke="#f8ae6c" stroke-width="0.55"/>
<polygon points="511.30,270.23 512.95,273.08 509.65,273.08" fill="none" stroke="#f8ae6c" stroke-width="0.55"/>
<polygon points="514.70,269.65 516.35,272.50 513.05,272.50" fill="none" stroke="#f8ae6c" stroke-width="0.55"/>
<polygon points="518.10,269.24 519.75,272.09 516.45,272.09" fill="none" stroke="#f8ae6c" stroke-width="0.55"/>
<polygon points="521.50,269.70 523.15,272.55 519.85,272.55" fill="none" stroke="#f8ae6c" stroke-width="0.55"/>
<polygon points="524.90,269.10 526.55,271.95 523.25,271.95" fill="none" stroke="#f8ae6c" stroke-width="0.55"/>
<polygon points="528.30,269.84 529.95,272.69 526.65,272.69" fill="none" stroke="#f8ae6c" stroke-width="0.55"/>
<polygon points="531.70,269.77 533.35,272.62 530.05,272.62" fill="none" stroke="#f8ae6c" stroke-width="0.55"/>
<polygon points="535.10,268.73 536.75,271.58 533.45,271.58" fill="none" stroke="#f8ae6c" stroke-width="0.55"/>
<polygon points="538.50,268.85 540.15,271.70 536.85,271.70" fill="none" stroke="#f8ae6c" stroke-width="0.55"/>
<polygon points="541.90,269.57 543.55,272.42 540.25,272.42" fill="none" stroke="#f8ae6c" stroke-width="0.55"/>
<polygon points="545.30,269.31 546.95,272.16 543.65,272.16" fill="none" stroke="#f8ae6c" stroke-width="0.55"/>
<polygon points="548.70,269.52 550.35,272.37 547.05,272.37" fill="none" stroke="#f8ae6c" stroke-width="0.55"/>
<polygon points="552.10,268.86 553.75,271.71 550.45,271.71" fill="none" stroke="#f8ae6c" stroke-width="0.55"/>
<polygon points="453.50,360.65 452.07,361.48 452.07,363.12 453.50,363.95 454.93,363.12 454.93,361.48" fill="none" stroke="#f8ae6c" stroke-width="0.55"/>
<polygon points="456.90,320.35 455.47,321.18 455.47,322.82 456.90,323.65 458.33,322.82 458.33,321.18" fill="none" stroke="#f8ae6c" stroke-width="0.55"/>
<polygon points="460.30,313.25 458.87,314.07 458.87,315.72 460.30,316.55 461.73,315.72 461.73,314.07" fill="none" stroke="#f8ae6c" stroke-width="0.55"/>
<polygon points="463.70,309.55 462.27,310.38 462.27,312.02 463.70,312.85 465.13,312.02 465.13,310.38" fill="none" stroke="#f8ae6c" stroke-width="0.55"/>
<polygon points="467.10,307.35 465.67,308.18 465.67,309.82 467.10,310.65 468.53,309.82 468.53,308.18" fill="none" stroke="#f8ae6c" stroke-width="0.55"/>
<polygon points="470.50,305.15 469.07,305.98 469.07,307.62 470.50,308.45 471.93,307.62 471.93,305.98" fill="none" stroke="#f8ae6c" stroke-width="0.55"/>
<polygon points="473.90,303.70 472.47,304.53 472.47,306.18 473.90,307.00 475.33,306.18 475.33,304.53" fill="none" stroke="#f8ae6c" stroke-width="0.55"/>
<polygon points="477.30,302.25 475.87,303.07 475.87,304.72 477.30,305.55 478.73,304.72 478.73,303.07" fill="none" stroke="#f8ae6c" stroke-width="0.55"/>
<polygon points="480.70,300.95 479.27,301.78 479.27,303.43 480.70,304.25 482.13,303.43 482.13,301.78" fill="none" stroke="#f8ae6c" stroke-width="0.55"/>
<polygon points="484.10,299.65 482.67,300.48 482.67,302.12 484.10,302.95 485.53,302.12 485.53,300.48" fill="none" stroke="#f8ae6c" stroke-width="0.55"/>
<polygon points="487.50,298.85 486.07,299.68 486.07,301.32 487.50,302.15 488.93,301.32 488.93,299.68" fill="none" stroke="#f8ae6c" stroke-width="0.55"/>
<polygon points="490.90,298.05 489.47,298.88 489.47,300.52 490.90,301.35 492.33,300.52 492.33,298.88" fill="none" stroke="#f8ae6c" stroke-width="0.55"/>
<polygon points="494.30,297.39 492.87,298.22 492.87,299.87 494.30,300.69 495.73,299.87 495.73,298.22" fill="none" stroke="#f8ae6c" stroke-width="0.55"/>
<polygon points="497.70,296.87 496.27,297.69 496.27,299.34 497.70,300.17 499.13,299.34 499.13,297.69" fill="none" stroke="#f8ae6c" stroke-width="0.55"/>
<polygon points="501.10,296.35 499.67,297.18 499.67,298.82 501.10,299.65 502.53,298.82 502.53,297.18" fill="none" stroke="#f8ae6c" stroke-width="0.55"/>
<polygon points="504.50,295.99 503.07,296.81 503.07,298.46 504.50,299.29 505.93,298.46 505.93,296.81" fill="none" stroke="#f8ae6c" stroke-width="0.55"/>
<polygon points="507.90,295.63 506.47,296.45 506.47,298.10 507.90,298.93 509.33,298.10 509.33,296.45" fill="none" stroke="#f8ae6c" stroke-width="0.55"/>
<polygon points="511.30,295.27 509.87,296.09 509.87,297.74 511.30,298.57 512.73,297.74 512.73,296.09" fill="none" stroke="#f8ae6c" stroke-width="0.55"/>
<polygon points="514.70,294.91 513.27,295.74 513.27,297.38 514.70,298.21 516.13,297.38 516.13,295.74" fill="none" stroke="#f8ae6c" stroke-width="0.55"/>
<polygon points="518.10,294.55 516.67,295.38 516.67,297.02 518.10,297.85 519.53,297.02 519.53,295.38" fill="none" stroke="#f8ae6c" stroke-width="0.55"/>
<polygon points="521.50,294.21 520.07,295.04 520.07,296.69 521.50,297.51 522.93,296.69 522.93,295.04" fill="none" stroke="#f8ae6c" stroke-width="0.55"/>
<polygon points="524.90,293.87 523.47,294.69 523.47,296.34 524.90,297.17 526.33,296.34 526.33,294.69" fill="none" stroke="#f8ae6c" stroke-width="0.55"/>
<polygon points="528.30,293.53 526.87,294.36 526.87,296.00 528.30,296.83 529.73,296.00 529.73,294.36" fill="none" stroke="#f8ae6c" stroke-width="0.55"/>
<polygon points="531.70,293.19 530.27,294.02 530.27,295.67 531.70,296.49 533.13,295.67 533.13,294.02" fill="none" stroke="#f8ae6c" stroke-width="0.55"/>
<polygon points="535.10,292.85 533.67,293.68 533.67,295.32 535.10,296.15 536.53,295.32 536.53,293.68" fill="none" stroke="#f8ae6c" stroke-width="0.55"/>
<polygon points="538.50,292.55 537.07,293.38 537.07,295.03 538.50,295.85 539.93,295.03 539.93,293.38" fill="none" stroke="#f8ae6c" stroke-width="0.55"/>
<polygon points="541.90,292.25 540.47,293.07 540.47,294.72 541.90,295.55 543.33,294.72 543.33,293.07" fill="none" stroke="#f8ae6c" stroke-width="0.55"/>
<polygon points="545.30,291.95 543.87,292.78 543.87,294.43 545.30,295.25 546.73,294.43 546.73,292.78" fill="none" stroke="#f8ae6c" stroke-width="0.55"/>
<polygon points="548.70,291.65 547.27,292.48 547.27,294.12 548.70,294.95 550.13,294.12 550.13,292.48" fill="none" stroke="#f8ae6c" stroke-width="0.55"/>
<polygon points="552.10,291.35 550.67,292.18 550.67,293.82 552.10,294.65 553.53,293.82 553.53,292.18" fill="none" stroke="#f8ae6c" stroke-width="0.55"/>
<circle cx="436.50" cy="396.30" r="1.5" fill="none" stroke="#f8ae6c" stroke-width="0.55"/>
<circle cx="439.90" cy="369.20" r="1.5" fill="none" stroke="#f8ae6c" stroke-width="0.55"/>
<circle cx="443.30" cy="351.40" r="1.5" fill="none" stroke="#f8ae6c" stroke-width="0.55"/>
<circle cx="446.70" cy="341.10" r="1.5" fill="none" stroke="#f8ae6c" stroke-width="0.55"/>
<circle cx="450.10" cy="334.90" r="1.5" fill="none" stroke="#f8ae6c" stroke-width="0.55"/>
<circle cx="453.50" cy="330.00" r="1.5" fill="none" stroke="#f8ae6c" stroke-width="0.55"/>
<circle cx="456.90" cy="325.50" r="1.5" fill="none" stroke="#f8ae6c" stroke-width="0.55"/>
<circle cx="460.30" cy="321.50" r="1.5" fill="none" stroke="#f8ae6c" stroke-width="0.55"/>
<circle cx="463.70" cy="318.50" r="1.5" fill="none" stroke="#f8ae6c" stroke-width="0.55"/>
<circle cx="467.10" cy="316.00" r="1.5" fill="none" stroke="#f8ae6c" stroke-width="0.55"/>
<circle cx="470.50" cy="314.20" r="1.5" fill="none" stroke="#f8ae6c" stroke-width="0.55"/>
<circle cx="473.90" cy="312.40" r="1.5" fill="none" stroke="#f8ae6c" stroke-width="0.55"/>
<circle cx="477.30" cy="310.70" r="1.5" fill="none" stroke="#f8ae6c" stroke-width="0.55"/>
<circle cx="480.70" cy="309.10" r="1.5" fill="none" stroke="#f8ae6c" stroke-width="0.55"/>
<circle cx="484.10" cy="307.50" r="1.5" fill="none" stroke="#f8ae6c" stroke-width="0.55"/>
<circle cx="487.50" cy="306.30" r="1.5" fill="none" stroke="#f8ae6c" stroke-width="0.55"/>
<circle cx="490.90" cy="305.10" r="1.5" fill="none" stroke="#f8ae6c" stroke-width="0.55"/>
<circle cx="494.30" cy="304.00" r="1.5" fill="none" stroke="#f8ae6c" stroke-width="0.55"/>
<circle cx="497.70" cy="303.00" r="1.5" fill="none" stroke="#f8ae6c" stroke-width="0.55"/>
<circle cx="501.10" cy="302.00" r="1.5" fill="none" stroke="#f8ae6c" stroke-width="0.55"/>
<circle cx="504.50" cy="301.30" r="1.5" fill="none" stroke="#f8ae6c" stroke-width="0.55"/>
<circle cx="507.90" cy="300.60" r="1.5" fill="none" stroke="#f8ae6c" stroke-width="0.55"/>
<circle cx="511.30" cy="299.90" r="1.5" fill="none" stroke="#f8ae6c" stroke-width="0.55"/>
<circle cx="514.70" cy="299.20" r="1.5" fill="none" stroke="#f8ae6c" stroke-width="0.55"/>
<circle cx="518.10" cy="298.50" r="1.5" fill="none" stroke="#f8ae6c" stroke-width="0.55"/>
<circle cx="521.50" cy="297.96" r="1.5" fill="none" stroke="#f8ae6c" stroke-width="0.55"/>
<circle cx="524.90" cy="297.42" r="1.5" fill="none" stroke="#f8ae6c" stroke-width="0.55"/>
<circle cx="528.30" cy="296.88" r="1.5" fill="none" stroke="#f8ae6c" stroke-width="0.55"/>
<circle cx="531.70" cy="296.34" r="1.5" fill="none" stroke="#f8ae6c" stroke-width="0.55"/>
<circle cx="535.10" cy="295.80" r="1.5" fill="none" stroke="#f8ae6c" stroke-width="0.55"/>
<circle cx="538.50" cy="295.40" r="1.5" fill="none" stroke="#f8ae6c" stroke-width="0.55"/>
<circle cx="541.90" cy="295.00" r="1.5" fill="none" stroke="#f8ae6c" stroke-width="0.55"/>
<circle cx="545.30" cy="294.60" r="1.5" fill="none" stroke="#f8ae6c" stroke-width="0.55"/>
<circle cx="548.70" cy="294.20" r="1.5" fill="none" stroke="#f8ae6c" stroke-width="0.55"/>
<circle cx="552.10" cy="293.80" r="1.5" fill="none" stroke="#f8ae6c" stroke-width="0.55"/>
<polygon points="443.30,374.64 442.84,375.87 441.53,375.93 442.56,376.74 442.21,378.00 443.30,377.28 444.39,378.00 444.04,376.74 445.07,375.93 443.76,375.87" fill="none" stroke="#f8ae6c" stroke-width="0.55"/>
<polygon points="446.70,353.84 446.24,355.07 444.93,355.13 445.96,355.94 445.61,357.20 446.70,356.48 447.79,357.20 447.44,355.94 448.47,355.13 447.16,355.07" fill="none" stroke="#f8ae6c" stroke-width="0.55"/>
<polygon points="450.10,341.14 449.64,342.37 448.33,342.43 449.36,343.24 449.01,344.50 450.10,343.78 451.19,344.50 450.84,343.24 451.87,342.43 450.56,342.37" fill="none" stroke="#f8ae6c" stroke-width="0.55"/>
<polygon points="453.50,333.44 453.04,334.67 451.73,334.73 452.76,335.54 452.41,336.80 453.50,336.08 454.59,336.80 454.24,335.54 455.27,334.73 453.96,334.67" fill="none" stroke="#f8ae6c" stroke-width="0.55"/>
<polygon points="456.90,328.14 456.44,329.37 455.13,329.43 456.16,330.24 455.81,331.50 456.90,330.78 457.99,331.50 457.64,330.24 458.67,329.43 457.36,329.37" fill="none" stroke="#f8ae6c" stroke-width="0.55"/>
<polygon points="460.30,324.64 459.84,325.87 458.53,325.93 459.56,326.74 459.21,328.00 460.30,327.28 461.39,328.00 461.04,326.74 462.07,325.93 460.76,325.87" fill="none" stroke="#f8ae6c" stroke-width="0.55"/>
<polygon points="463.70,322.14 463.24,323.37 461.93,323.43 462.96,324.24 462.61,325.50 463.70,324.78 464.79,325.50 464.44,324.24 465.47,323.43 464.16,323.37" fill="none" stroke="#f8ae6c" stroke-width="0.55"/>
<polygon points="467.10,319.64 466.64,320.87 465.33,320.93 466.36,321.74 466.01,323.00 467.10,322.28 468.19,323.00 467.84,321.74 468.87,320.93 467.56,320.87" fill="none" stroke="#f8ae6c" stroke-width="0.55"/>
<polygon points="470.50,317.84 470.04,319.07 468.73,319.13 469.76,319.94 469.41,321.20 470.50,320.48 471.59,321.20 471.24,319.94 472.27,319.13 470.96,319.07" fill="none" stroke="#f8ae6c" stroke-width="0.55"/>
<polygon points="473.90,316.04 473.44,317.27 472.13,317.33 473.16,318.14 472.81,319.40 473.90,318.68 474.99,319.40 474.64,318.14 475.67,317.33 474.36,317.27" fill="none" stroke="#f8ae6c" stroke-width="0.55"/>
<polygon points="477.30,314.34 476.84,315.57 475.53,315.63 476.56,316.44 476.21,317.70 477.30,316.98 478.39,317.70 478.04,316.44 479.07,315.63 477.76,315.57" fill="none" stroke="#f8ae6c" stroke-width="0.55"/>
<polygon points="480.70,312.74 480.24,313.97 478.93,314.03 479.96,314.84 479.61,316.10 480.70,315.38 481.79,316.10 481.44,314.84 482.47,314.03 481.16,313.97" fill="none" stroke="#f8ae6c" stroke-width="0.55"/>
<polygon points="484.10,311.14 483.64,312.37 482.33,312.43 483.36,313.24 483.01,314.50 484.10,313.78 485.19,314.50 484.84,313.24 485.87,312.43 484.56,312.37" fill="none" stroke="#f8ae6c" stroke-width="0.55"/>
<polygon points="487.50,309.54 487.04,310.77 485.73,310.83 486.76,311.64 486.41,312.90 487.50,312.18 488.59,312.90 488.24,311.64 489.27,310.83 487.96,310.77" fill="none" stroke="#f8ae6c" stroke-width="0.55"/>
<polygon points="490.90,307.94 490.44,309.17 489.13,309.23 490.16,310.04 489.81,311.30 490.90,310.58 491.99,311.30 491.64,310.04 492.67,309.23 491.36,309.17" fill="none" stroke="#f8ae6c" stroke-width="0.55"/>
<polygon points="494.30,306.46 493.84,307.69 492.53,307.75 493.56,308.56 493.21,309.82 494.30,309.10 495.39,309.82 495.04,308.56 496.07,307.75 494.76,307.69" fill="none" stroke="#f8ae6c" stroke-width="0.55"/>
<polygon points="497.70,305.10 497.24,306.33 495.93,306.39 496.96,307.20 496.61,308.46 497.70,307.74 498.79,308.46 498.44,307.20 499.47,306.39 498.16,306.33" fill="none" stroke="#f8ae6c" stroke-width="0.55"/>
<polygon points="501.10,303.74 500.64,304.97 499.33,305.03 500.36,305.84 500.01,307.10 501.10,306.38 502.19,307.10 501.84,305.84 502.87,305.03 501.56,304.97" fill="none" stroke="#f8ae6c" stroke-width="0.55"/>
<polygon points="504.50,303.14 504.04,304.37 502.73,304.43 503.76,305.24 503.41,306.50 504.50,305.78 505.59,306.50 505.24,305.24 506.27,304.43 504.96,304.37" fill="none" stroke="#f8ae6c" stroke-width="0.55"/>
<polygon points="507.90,302.54 507.44,303.77 506.13,303.83 507.16,304.64 506.81,305.90 507.90,305.18 508.99,305.90 508.64,304.64 509.67,303.83 508.36,303.77" fill="none" stroke="#f8ae6c" stroke-width="0.55"/>
<polygon points="511.30,301.94 510.84,303.17 509.53,303.23 510.56,304.04 510.21,305.30 511.30,304.58 512.39,305.30 512.04,304.04 513.07,303.23 511.76,303.17" fill="none" stroke="#f8ae6c" stroke-width="0.55"/>
<polygon points="514.70,301.34 514.24,302.57 512.93,302.63 513.96,303.44 513.61,304.70 514.70,303.98 515.79,304.70 515.44,303.44 516.47,302.63 515.16,302.57" fill="none" stroke="#f8ae6c" stroke-width="0.55"/>
<polygon points="518.10,300.74 517.64,301.97 516.33,302.03 517.36,302.84 517.01,304.10 518.10,303.38 519.19,304.10 518.84,302.84 519.87,302.03 518.56,301.97" fill="none" stroke="#f8ae6c" stroke-width="0.55"/>
<polygon points="521.50,300.30 521.04,301.53 519.73,301.59 520.76,302.40 520.41,303.66 521.50,302.94 522.59,303.66 522.24,302.40 523.27,301.59 521.96,301.53" fill="none" stroke="#f8ae6c" stroke-width="0.55"/>
<polygon points="524.90,299.86 524.44,301.09 523.13,301.15 524.16,301.96 523.81,303.22 524.90,302.50 525.99,303.22 525.64,301.96 526.67,301.15 525.36,301.09" fill="none" stroke="#f8ae6c" stroke-width="0.55"/>
<polygon points="528.30,299.42 527.84,300.65 526.53,300.71 527.56,301.52 527.21,302.78 528.30,302.06 529.39,302.78 529.04,301.52 530.07,300.71 528.76,300.65" fill="none" stroke="#f8ae6c" stroke-width="0.55"/>
<polygon points="531.70,298.98 531.24,300.21 529.93,300.27 530.96,301.08 530.61,302.34 531.70,301.62 532.79,302.34 532.44,301.08 533.47,300.27 532.16,300.21" fill="none" stroke="#f8ae6c" stroke-width="0.55"/>
<polygon points="535.10,298.54 534.64,299.77 533.33,299.83 534.36,300.64 534.01,301.90 535.10,301.18 536.19,301.90 535.84,300.64 536.87,299.83 535.56,299.77" fill="none" stroke="#f8ae6c" stroke-width="0.55"/>
<polygon points="538.50,298.22 538.04,299.45 536.73,299.51 537.76,300.32 537.41,301.58 538.50,300.86 539.59,301.58 539.24,300.32 540.27,299.51 538.96,299.45" fill="none" stroke="#f8ae6c" stroke-width="0.55"/>
<polygon points="541.90,297.90 541.44,299.13 540.13,299.19 541.16,300.00 540.81,301.26 541.90,300.54 542.99,301.26 542.64,300.00 543.67,299.19 542.36,299.13" fill="none" stroke="#f8ae6c" stroke-width="0.55"/>
<polygon points="545.30,297.58 544.84,298.81 543.53,298.87 544.56,299.68 544.21,300.94 545.30,300.22 546.39,300.94 546.04,299.68 547.07,298.87 545.76,298.81" fill="none" stroke="#f8ae6c" stroke-width="0.55"/>
<polygon points="548.70,297.26 548.24,298.49 546.93,298.55 547.96,299.36 547.61,300.62 548.70,299.90 549.79,300.62 549.44,299.36 550.47,298.55 549.16,298.49" fill="none" stroke="#f8ae6c" stroke-width="0.55"/>
<polygon points="552.10,296.94 551.64,298.17 550.33,298.23 551.36,299.04 551.01,300.30 552.10,299.58 553.19,300.30 552.84,299.04 553.87,298.23 552.56,298.17" fill="none" stroke="#f8ae6c" stroke-width="0.55"/>
<line x1="431.80" y1="377.60" x2="434.40" y2="377.60" stroke="#f8ae6c" stroke-width="0.7000000000000001" />
<line x1="433.10" y1="376.30" x2="433.10" y2="378.90" stroke="#f8ae6c" stroke-width="0.7000000000000001" />
<line x1="435.20" y1="355.30" x2="437.80" y2="355.30" stroke="#f8ae6c" stroke-width="0.7000000000000001" />
<line x1="436.50" y1="354.00" x2="436.50" y2="356.60" stroke="#f8ae6c" stroke-width="0.7000000000000001" />
<line x1="438.60" y1="341.40" x2="441.20" y2="341.40" stroke="#f8ae6c" stroke-width="0.7000000000000001" />
<line x1="439.90" y1="340.10" x2="439.90" y2="342.70" stroke="#f8ae6c" stroke-width="0.7000000000000001" />
<line x1="442.00" y1="333.40" x2="444.60" y2="333.40" stroke="#f8ae6c" stroke-width="0.7000000000000001" />
<line x1="443.30" y1="332.10" x2="443.30" y2="334.70" stroke="#f8ae6c" stroke-width="0.7000000000000001" />
<line x1="445.40" y1="328.00" x2="448.00" y2="328.00" stroke="#f8ae6c" stroke-width="0.7000000000000001" />
<line x1="446.70" y1="326.70" x2="446.70" y2="329.30" stroke="#f8ae6c" stroke-width="0.7000000000000001" />
<line x1="448.80" y1="324.30" x2="451.40" y2="324.30" stroke="#f8ae6c" stroke-width="0.7000000000000001" />
<line x1="450.10" y1="323.00" x2="450.10" y2="325.60" stroke="#f8ae6c" stroke-width="0.7000000000000001" />
<line x1="452.20" y1="321.40" x2="454.80" y2="321.40" stroke="#f8ae6c" stroke-width="0.7000000000000001" />
<line x1="453.50" y1="320.10" x2="453.50" y2="322.70" stroke="#f8ae6c" stroke-width="0.7000000000000001" />
<line x1="455.60" y1="318.80" x2="458.20" y2="318.80" stroke="#f8ae6c" stroke-width="0.7000000000000001" />
<line x1="456.90" y1="317.50" x2="456.90" y2="320.10" stroke="#f8ae6c" stroke-width="0.7000000000000001" />
<line x1="459.00" y1="316.50" x2="461.60" y2="316.50" stroke="#f8ae6c" stroke-width="0.7000000000000001" />
<line x1="460.30" y1="315.20" x2="460.30" y2="317.80" stroke="#f8ae6c" stroke-width="0.7000000000000001" />
<line x1="462.40" y1="314.50" x2="465.00" y2="314.50" stroke="#f8ae6c" stroke-width="0.7000000000000001" />
<line x1="463.70" y1="313.20" x2="463.70" y2="315.80" stroke="#f8ae6c" stroke-width="0.7000000000000001" />
<line x1="465.80" y1="312.50" x2="468.40" y2="312.50" stroke="#f8ae6c" stroke-width="0.7000000000000001" />
<line x1="467.10" y1="311.20" x2="467.10" y2="313.80" stroke="#f8ae6c" stroke-width="0.7000000000000001" />
<line x1="469.20" y1="310.56" x2="471.80" y2="310.56" stroke="#f8ae6c" stroke-width="0.7000000000000001" />
<line x1="470.50" y1="309.26" x2="470.50" y2="311.86" stroke="#f8ae6c" stroke-width="0.7000000000000001" />
<line x1="472.60" y1="308.62" x2="475.20" y2="308.62" stroke="#f8ae6c" stroke-width="0.7000000000000001" />
<line x1="473.90" y1="307.32" x2="473.90" y2="309.92" stroke="#f8ae6c" stroke-width="0.7000000000000001" />
<line x1="476.00" y1="306.68" x2="478.60" y2="306.68" stroke="#f8ae6c" stroke-width="0.7000000000000001" />
<line x1="477.30" y1="305.38" x2="477.30" y2="307.98" stroke="#f8ae6c" stroke-width="0.7000000000000001" />
<line x1="479.40" y1="304.74" x2="482.00" y2="304.74" stroke="#f8ae6c" stroke-width="0.7000000000000001" />
<line x1="480.70" y1="303.44" x2="480.70" y2="306.04" stroke="#f8ae6c" stroke-width="0.7000000000000001" />
<line x1="482.80" y1="302.80" x2="485.40" y2="302.80" stroke="#f8ae6c" stroke-width="0.7000000000000001" />
<line x1="484.10" y1="301.50" x2="484.10" y2="304.10" stroke="#f8ae6c" stroke-width="0.7000000000000001" />
<line x1="486.20" y1="301.28" x2="488.80" y2="301.28" stroke="#f8ae6c" stroke-width="0.7000000000000001" />
<line x1="487.50" y1="299.98" x2="487.50" y2="302.58" stroke="#f8ae6c" stroke-width="0.7000000000000001" />
<line x1="489.60" y1="299.76" x2="492.20" y2="299.76" stroke="#f8ae6c" stroke-width="0.7000000000000001" />
<line x1="490.90" y1="298.46" x2="490.90" y2="301.06" stroke="#f8ae6c" stroke-width="0.7000000000000001" />
<line x1="493.00" y1="298.24" x2="495.60" y2="298.24" stroke="#f8ae6c" stroke-width="0.7000000000000001" />
<line x1="494.30" y1="296.94" x2="494.30" y2="299.54" stroke="#f8ae6c" stroke-width="0.7000000000000001" />
<line x1="496.40" y1="296.72" x2="499.00" y2="296.72" stroke="#f8ae6c" stroke-width="0.7000000000000001" />
<line x1="497.70" y1="295.42" x2="497.70" y2="298.02" stroke="#f8ae6c" stroke-width="0.7000000000000001" />
<line x1="499.80" y1="295.20" x2="502.40" y2="295.20" stroke="#f8ae6c" stroke-width="0.7000000000000001" />
<line x1="501.10" y1="293.90" x2="501.10" y2="296.50" stroke="#f8ae6c" stroke-width="0.7000000000000001" />
<line x1="503.20" y1="294.16" x2="505.80" y2="294.16" stroke="#f8ae6c" stroke-width="0.7000000000000001" />
<line x1="504.50" y1="292.86" x2="504.50" y2="295.46" stroke="#f8ae6c" stroke-width="0.7000000000000001" />
<line x1="506.60" y1="293.12" x2="509.20" y2="293.12" stroke="#f8ae6c" stroke-width="0.7000000000000001" />
<line x1="507.90" y1="291.82" x2="507.90" y2="294.42" stroke="#f8ae6c" stroke-width="0.7000000000000001" />
<line x1="510.00" y1="292.08" x2="512.60" y2="292.08" stroke="#f8ae6c" stroke-width="0.7000000000000001" />
<line x1="511.30" y1="290.78" x2="511.30" y2="293.38" stroke="#f8ae6c" stroke-width="0.7000000000000001" />
<line x1="513.40" y1="291.04" x2="516.00" y2="291.04" stroke="#f8ae6c" stroke-width="0.7000000000000001" />
<line x1="514.70" y1="289.74" x2="514.70" y2="292.34" stroke="#f8ae6c" stroke-width="0.7000000000000001" />
<line x1="516.80" y1="290.00" x2="519.40" y2="290.00" stroke="#f8ae6c" stroke-width="0.7000000000000001" />
<line x1="518.10" y1="288.70" x2="518.10" y2="291.30" stroke="#f8ae6c" stroke-width="0.7000000000000001" />
<line x1="520.20" y1="288.92" x2="522.80" y2="288.92" stroke="#f8ae6c" stroke-width="0.7000000000000001" />
<line x1="521.50" y1="287.62" x2="521.50" y2="290.22" stroke="#f8ae6c" stroke-width="0.7000000000000001" />
<line x1="523.60" y1="287.84" x2="526.20" y2="287.84" stroke="#f8ae6c" stroke-width="0.7000000000000001" />
<line x1="524.90" y1="286.54" x2="524.90" y2="289.14" stroke="#f8ae6c" stroke-width="0.7000000000000001" />
<line x1="527.00" y1="286.76" x2="529.60" y2="286.76" stroke="#f8ae6c" stroke-width="0.7000000000000001" />
<line x1="528.30" y1="285.46" x2="528.30" y2="288.06" stroke="#f8ae6c" stroke-width="0.7000000000000001" />
<line x1="530.40" y1="285.68" x2="533.00" y2="285.68" stroke="#f8ae6c" stroke-width="0.7000000000000001" />
<line x1="531.70" y1="284.38" x2="531.70" y2="286.98" stroke="#f8ae6c" stroke-width="0.7000000000000001" />
<line x1="533.80" y1="284.60" x2="536.40" y2="284.60" stroke="#f8ae6c" stroke-width="0.7000000000000001" />
<line x1="535.10" y1="283.30" x2="535.10" y2="285.90" stroke="#f8ae6c" stroke-width="0.7000000000000001" />
<line x1="397.75" y1="225.50" x2="671.20" y2="225.50" stroke="#000" stroke-width="1.7" />
<line x1="398.60" y1="225.50" x2="398.60" y2="396.50" stroke="#000" stroke-width="1.7" />
<line x1="397.75" y1="396.50" x2="671.20" y2="396.50" stroke="#000" stroke-width="1.7" />
<line x1="389.30" y1="396.50" x2="398.60" y2="396.50" stroke="#000" stroke-width="1.6" />
<line x1="394.30" y1="358.43" x2="398.60" y2="358.43" stroke="#000" stroke-width="1.5" />
<line x1="389.30" y1="320.36" x2="398.60" y2="320.36" stroke="#000" stroke-width="1.6" />
<line x1="394.30" y1="282.29" x2="398.60" y2="282.29" stroke="#000" stroke-width="1.5" />
<line x1="389.30" y1="244.22" x2="398.60" y2="244.22" stroke="#000" stroke-width="1.6" />
<line x1="399.10" y1="396.50" x2="399.10" y2="400.90" stroke="#000" stroke-width="1.5" />
<line x1="416.10" y1="396.50" x2="416.10" y2="400.90" stroke="#000" stroke-width="1.5" />
<line x1="433.10" y1="396.50" x2="433.10" y2="405.50" stroke="#000" stroke-width="1.6" />
<line x1="450.10" y1="396.50" x2="450.10" y2="400.90" stroke="#000" stroke-width="1.5" />
<line x1="467.10" y1="396.50" x2="467.10" y2="400.90" stroke="#000" stroke-width="1.5" />
<line x1="484.10" y1="396.50" x2="484.10" y2="400.90" stroke="#000" stroke-width="1.5" />
<line x1="501.10" y1="396.50" x2="501.10" y2="405.50" stroke="#000" stroke-width="1.6" />
<line x1="518.10" y1="396.50" x2="518.10" y2="400.90" stroke="#000" stroke-width="1.5" />
<line x1="535.10" y1="396.50" x2="535.10" y2="400.90" stroke="#000" stroke-width="1.5" />
<line x1="552.10" y1="396.50" x2="552.10" y2="400.90" stroke="#000" stroke-width="1.5" />
<line x1="569.10" y1="396.50" x2="569.10" y2="405.50" stroke="#000" stroke-width="1.6" />
<line x1="586.10" y1="396.50" x2="586.10" y2="400.90" stroke="#000" stroke-width="1.5" />
<line x1="603.10" y1="396.50" x2="603.10" y2="400.90" stroke="#000" stroke-width="1.5" />
<line x1="620.10" y1="396.50" x2="620.10" y2="400.90" stroke="#000" stroke-width="1.5" />
<line x1="637.10" y1="396.50" x2="637.10" y2="405.50" stroke="#000" stroke-width="1.6" />
<line x1="654.10" y1="396.50" x2="654.10" y2="400.90" stroke="#000" stroke-width="1.5" />
<line x1="671.10" y1="396.50" x2="671.10" y2="400.90" stroke="#000" stroke-width="1.5" />
<text transform="translate(330.90 251.92)" x="-0.84" y="0" font-size="21.5" fill="#000" stroke="#000" stroke-width="0.12" letter-spacing="-0.233" ><tspan>0.004</tspan></text>
<text transform="translate(330.90 328.06)" x="-0.84" y="0" font-size="21.5" fill="#000" stroke="#000" stroke-width="0.12" letter-spacing="-0.120" ><tspan>0.002</tspan></text>
<text transform="translate(330.90 404.20)" x="-0.84" y="0" font-size="21.5" fill="#000" stroke="#000" stroke-width="0.12" letter-spacing="-0.181" ><tspan>0.000</tspan></text>
<text transform="translate(433.10 431.00)" x="-5.98" y="0" font-size="21.5" fill="#000" stroke="#000" stroke-width="0.12" letter-spacing="-0.400" ><tspan>8</tspan></text>
<text transform="translate(501.10 431.00)" x="-11.76" y="0" font-size="21.5" fill="#000" stroke="#000" stroke-width="0.12" letter-spacing="-0.400" ><tspan>12</tspan></text>
<text transform="translate(569.10 431.00)" x="-11.76" y="0" font-size="21.5" fill="#000" stroke="#000" stroke-width="0.12" letter-spacing="-0.400" ><tspan>16</tspan></text>
<text transform="translate(637.10 431.00)" x="-11.76" y="0" font-size="21.5" fill="#000" stroke="#000" stroke-width="0.12" letter-spacing="-0.400" ><tspan>20</tspan></text>
<text transform="translate(314.30 348.60) rotate(-90)" x="-0.36" y="0" font-size="21.5" fill="#000" stroke="#000" stroke-width="0.12" letter-spacing="0.327" ><tspan font-style="italic">m</tspan><tspan dx="1">(emu)</tspan></text>
<text transform="translate(504.80 248.60)" x="-1.68" y="0" font-size="22" fill="#000" stroke="#000" stroke-width="0.12" letter-spacing="-0.075" ><tspan>10 kOe</tspan></text>
<text transform="translate(602.40 258.80)" x="-0.88" y="0" font-size="22" fill="#000" stroke="#000" stroke-width="0.12" letter-spacing="0.266" ><tspan>5 kOe</tspan></text>
<text transform="translate(405.20 266.80)" x="-0.50" y="0" font-size="22" fill="#000" stroke="#000" stroke-width="0.12" letter-spacing="0.150" ><tspan>40 kOe</tspan></text>
<text transform="translate(584.30 284.50)" x="-0.88" y="0" font-size="22" fill="#000" stroke="#000" stroke-width="0.12" letter-spacing="-0.014" ><tspan>50 kOe</tspan></text>
<text transform="translate(590.90 307.60)" x="-1.11" y="0" font-size="22" fill="#000" stroke="#000" stroke-width="0.12" letter-spacing="0.251" ><tspan>20 kOe</tspan></text>
<text transform="translate(526.90 330.60)" x="-1.11" y="0" font-size="22" fill="#000" stroke="#000" stroke-width="0.12" letter-spacing="0.247" ><tspan>2 kOe</tspan></text>
<text transform="translate(598.00 331.30)" x="-0.84" y="0" font-size="22" fill="#000" stroke="#000" stroke-width="0.12" letter-spacing="0.177" ><tspan>30 kOe</tspan></text>
<text transform="translate(528.50 360.30)" x="-1.68" y="0" font-size="22" fill="#000" stroke="#000" stroke-width="0.12" letter-spacing="0.040" ><tspan>1 kOe</tspan></text>
<line x1="517.70" y1="252.00" x2="513.20" y2="266.60" stroke="#3a3a3a" stroke-width="0.6" />
<polygon points="513.20,266.60 513.29,262.23 515.58,262.94" fill="#000"/>
<line x1="595.50" y1="253.30" x2="552.70" y2="272.80" stroke="#3a3a3a" stroke-width="0.6" />
<polygon points="552.70,272.80 556.02,269.97 557.02,272.15" fill="#000"/>
<line x1="422.90" y1="270.80" x2="501.90" y2="301.10" stroke="#3a3a3a" stroke-width="0.6" />
<polygon points="501.90,301.10 497.55,300.72 498.41,298.48" fill="#000"/>
<line x1="575.20" y1="280.20" x2="545.80" y2="283.30" stroke="#3a3a3a" stroke-width="0.6" />
<polygon points="545.80,283.30 549.85,281.67 550.10,284.05" fill="#000"/>
<line x1="581.00" y1="297.80" x2="558.10" y2="292.40" stroke="#3a3a3a" stroke-width="0.6" />
<polygon points="558.10,292.40 562.46,292.20 561.91,294.53" fill="#000"/>
<line x1="593.50" y1="316.50" x2="558.10" y2="301.10" stroke="#3a3a3a" stroke-width="0.6" />
<polygon points="558.10,301.10 562.43,301.68 561.47,303.88" fill="#000"/>
<line x1="521.90" y1="324.90" x2="523.20" y2="310.30" stroke="#3a3a3a" stroke-width="0.6" />
<polygon points="523.20,310.30 524.02,314.59 521.63,314.38" fill="#000"/>
</g>
<g id="panelB">
<clipPath id="clipB"><rect x="80.1" y="533.0" width="591.10" height="443.20"/></clipPath>
<g clip-path="url(#clipB)">
<line x1="154.80" y1="668.12" x2="178.07" y2="714.68" stroke="#111" stroke-width="1.15" stroke-dasharray="1.3 1.7"/>
<line x1="186.38" y1="731.32" x2="209.64" y2="777.88" stroke="#111" stroke-width="1.15" stroke-dasharray="1.3 1.7"/>
<line x1="217.06" y1="794.91" x2="234.22" y2="840.69" stroke="#111" stroke-width="1.15" stroke-dasharray="1.3 1.7"/>
<line x1="241.64" y1="857.72" x2="264.90" y2="904.28" stroke="#111" stroke-width="1.15" stroke-dasharray="1.3 1.7"/>
<line x1="273.21" y1="920.92" x2="280.69" y2="935.88" stroke="#111" stroke-width="1.15" stroke-dasharray="1.3 1.7"/>
<line x1="290.80" y1="951.35" x2="294.68" y2="956.01" stroke="#111" stroke-width="1.15" stroke-dasharray="1.3 1.7"/>
<line x1="136.22" y1="670.72" x2="141.39" y2="712.08" stroke="#ff0000" stroke-width="1.15" stroke-dasharray="1.3 1.7"/>
<line x1="144.12" y1="733.92" x2="149.28" y2="775.28" stroke="#ff0000" stroke-width="1.15" stroke-dasharray="1.3 1.7"/>
<line x1="153.31" y1="796.87" x2="163.77" y2="838.73" stroke="#ff0000" stroke-width="1.15" stroke-dasharray="1.3 1.7"/>
<line x1="169.10" y1="860.07" x2="179.56" y2="901.93" stroke="#ff0000" stroke-width="1.15" stroke-dasharray="1.3 1.7"/>
<line x1="187.14" y1="922.44" x2="193.09" y2="934.36" stroke="#ff0000" stroke-width="1.15" stroke-dasharray="1.3 1.7"/>
<line x1="208.41" y1="947.77" x2="242.86" y2="959.59" stroke="#ff0000" stroke-width="1.15" stroke-dasharray="1.3 1.7"/>
<line x1="264.05" y1="965.32" x2="274.06" y2="967.32" stroke="#ff0000" stroke-width="1.15" stroke-dasharray="1.3 1.7"/>
<line x1="382.34" y1="668.68" x2="416.27" y2="777.32" stroke="#ff0000" stroke-width="1.15" stroke-dasharray="1.3 1.7"/>
<line x1="422.31" y1="794.91" x2="439.46" y2="840.69" stroke="#ff0000" stroke-width="1.15" stroke-dasharray="1.3 1.7"/>
<line x1="444.98" y1="858.42" x2="456.26" y2="903.58" stroke="#ff0000" stroke-width="1.15" stroke-dasharray="1.3 1.7"/>
<line x1="462.67" y1="920.92" x2="470.14" y2="935.88" stroke="#ff0000" stroke-width="1.15" stroke-dasharray="1.3 1.7"/>
<line x1="480.25" y1="951.35" x2="484.14" y2="956.01" stroke="#ff0000" stroke-width="1.15" stroke-dasharray="1.3 1.7"/>
<line x1="142.55" y1="659.80" x2="158.75" y2="659.80" stroke="#111" stroke-width="1.0" />
<line x1="142.55" y1="655.10" x2="142.55" y2="664.50" stroke="#111" stroke-width="1.0" />
<line x1="158.75" y1="655.10" x2="158.75" y2="664.50" stroke="#111" stroke-width="1.0" />
<circle cx="150.65" cy="659.80" r="5.6" fill="#000" stroke="#000" stroke-width="0.4"/>
<line x1="174.12" y1="723.00" x2="190.32" y2="723.00" stroke="#111" stroke-width="1.0" />
<line x1="174.12" y1="718.30" x2="174.12" y2="727.70" stroke="#111" stroke-width="1.0" />
<line x1="190.32" y1="718.30" x2="190.32" y2="727.70" stroke="#111" stroke-width="1.0" />
<circle cx="182.22" cy="723.00" r="5.6" fill="#000" stroke="#000" stroke-width="0.4"/>
<line x1="205.70" y1="786.20" x2="221.90" y2="786.20" stroke="#111" stroke-width="1.0" />
<line x1="205.70" y1="781.50" x2="205.70" y2="790.90" stroke="#111" stroke-width="1.0" />
<line x1="221.90" y1="781.50" x2="221.90" y2="790.90" stroke="#111" stroke-width="1.0" />
<circle cx="213.80" cy="786.20" r="5.6" fill="#000" stroke="#000" stroke-width="0.4"/>
<line x1="229.38" y1="849.40" x2="245.58" y2="849.40" stroke="#111" stroke-width="1.0" />
<line x1="229.38" y1="844.70" x2="229.38" y2="854.10" stroke="#111" stroke-width="1.0" />
<line x1="245.58" y1="844.70" x2="245.58" y2="854.10" stroke="#111" stroke-width="1.0" />
<circle cx="237.48" cy="849.40" r="5.6" fill="#000" stroke="#000" stroke-width="0.4"/>
<line x1="260.96" y1="912.60" x2="277.16" y2="912.60" stroke="#111" stroke-width="1.0" />
<line x1="260.96" y1="907.90" x2="260.96" y2="917.30" stroke="#111" stroke-width="1.0" />
<line x1="277.16" y1="907.90" x2="277.16" y2="917.30" stroke="#111" stroke-width="1.0" />
<circle cx="269.06" cy="912.60" r="5.6" fill="#000" stroke="#000" stroke-width="0.4"/>
<line x1="276.74" y1="944.20" x2="292.94" y2="944.20" stroke="#111" stroke-width="1.0" />
<line x1="276.74" y1="939.50" x2="276.74" y2="948.90" stroke="#111" stroke-width="1.0" />
<line x1="292.94" y1="939.50" x2="292.94" y2="948.90" stroke="#111" stroke-width="1.0" />
<circle cx="284.84" cy="944.20" r="5.6" fill="#000" stroke="#000" stroke-width="0.4"/>
<line x1="292.53" y1="963.16" x2="308.73" y2="963.16" stroke="#111" stroke-width="1.0" />
<line x1="292.53" y1="958.46" x2="292.53" y2="967.86" stroke="#111" stroke-width="1.0" />
<line x1="308.73" y1="958.46" x2="308.73" y2="967.86" stroke="#111" stroke-width="1.0" />
<circle cx="300.63" cy="963.16" r="5.6" fill="#000" stroke="#000" stroke-width="0.4"/>
<line x1="296.48" y1="969.48" x2="312.68" y2="969.48" stroke="#111" stroke-width="1.0" />
<line x1="296.48" y1="964.78" x2="296.48" y2="974.18" stroke="#111" stroke-width="1.0" />
<line x1="312.68" y1="964.78" x2="312.68" y2="974.18" stroke="#111" stroke-width="1.0" />
<circle cx="304.58" cy="969.48" r="5.6" fill="#000" stroke="#000" stroke-width="0.4"/>
<line x1="371.47" y1="659.80" x2="387.67" y2="659.80" stroke="#ff0000" stroke-width="1.0" />
<line x1="371.47" y1="655.10" x2="371.47" y2="664.50" stroke="#ff0000" stroke-width="1.0" />
<line x1="387.67" y1="655.10" x2="387.67" y2="664.50" stroke="#ff0000" stroke-width="1.0" />
<circle cx="379.57" cy="659.80" r="5.1" fill="#fff" stroke="#ff0000" stroke-width="1.3"/>
<line x1="410.94" y1="786.20" x2="427.14" y2="786.20" stroke="#ff0000" stroke-width="1.0" />
<line x1="410.94" y1="781.50" x2="410.94" y2="790.90" stroke="#ff0000" stroke-width="1.0" />
<line x1="427.14" y1="781.50" x2="427.14" y2="790.90" stroke="#ff0000" stroke-width="1.0" />
<circle cx="419.04" cy="786.20" r="5.1" fill="#fff" stroke="#ff0000" stroke-width="1.3"/>
<line x1="434.62" y1="849.40" x2="450.82" y2="849.40" stroke="#ff0000" stroke-width="1.0" />
<line x1="434.62" y1="844.70" x2="434.62" y2="854.10" stroke="#ff0000" stroke-width="1.0" />
<line x1="450.82" y1="844.70" x2="450.82" y2="854.10" stroke="#ff0000" stroke-width="1.0" />
<circle cx="442.72" cy="849.40" r="5.1" fill="#fff" stroke="#ff0000" stroke-width="1.3"/>
<line x1="450.41" y1="912.60" x2="466.61" y2="912.60" stroke="#ff0000" stroke-width="1.0" />
<line x1="450.41" y1="907.90" x2="450.41" y2="917.30" stroke="#ff0000" stroke-width="1.0" />
<line x1="466.61" y1="907.90" x2="466.61" y2="917.30" stroke="#ff0000" stroke-width="1.0" />
<circle cx="458.51" cy="912.60" r="5.1" fill="#fff" stroke="#ff0000" stroke-width="1.3"/>
<line x1="466.20" y1="944.20" x2="482.40" y2="944.20" stroke="#ff0000" stroke-width="1.0" />
<line x1="466.20" y1="939.50" x2="466.20" y2="948.90" stroke="#ff0000" stroke-width="1.0" />
<line x1="482.40" y1="939.50" x2="482.40" y2="948.90" stroke="#ff0000" stroke-width="1.0" />
<circle cx="474.30" cy="944.20" r="5.1" fill="#fff" stroke="#ff0000" stroke-width="1.3"/>
<line x1="481.99" y1="963.16" x2="498.19" y2="963.16" stroke="#ff0000" stroke-width="1.0" />
<line x1="481.99" y1="958.46" x2="481.99" y2="967.86" stroke="#ff0000" stroke-width="1.0" />
<line x1="498.19" y1="958.46" x2="498.19" y2="967.86" stroke="#ff0000" stroke-width="1.0" />
<circle cx="490.09" cy="963.16" r="5.1" fill="#fff" stroke="#ff0000" stroke-width="1.3"/>
<line x1="489.88" y1="969.48" x2="506.08" y2="969.48" stroke="#ff0000" stroke-width="1.0" />
<line x1="489.88" y1="964.78" x2="489.88" y2="974.18" stroke="#ff0000" stroke-width="1.0" />
<line x1="506.08" y1="964.78" x2="506.08" y2="974.18" stroke="#ff0000" stroke-width="1.0" />
<circle cx="497.98" cy="969.48" r="5.1" fill="#fff" stroke="#ff0000" stroke-width="1.3"/>
<polygon points="134.86,653.00 133.12,658.01 127.82,658.11 132.04,661.31 130.51,666.39 134.86,663.36 139.21,666.39 137.67,661.31 141.90,658.11 136.60,658.01" fill="#fff" stroke="#ff0000" stroke-width="1.3" stroke-linejoin="miter"/>
<polygon points="142.75,716.20 141.01,721.21 135.71,721.31 139.94,724.51 138.40,729.59 142.75,726.56 147.10,729.59 145.57,724.51 149.79,721.31 144.49,721.21" fill="#fff" stroke="#ff0000" stroke-width="1.3" stroke-linejoin="miter"/>
<polygon points="150.65,779.40 148.91,784.41 143.61,784.51 147.83,787.71 146.30,792.79 150.65,789.76 155.00,792.79 153.46,787.71 157.68,784.51 152.39,784.41" fill="#fff" stroke="#ff0000" stroke-width="1.3" stroke-linejoin="miter"/>
<polygon points="166.43,842.60 164.69,847.61 159.40,847.71 163.62,850.91 162.08,855.99 166.43,852.96 170.78,855.99 169.25,850.91 173.47,847.71 168.17,847.61" fill="#fff" stroke="#ff0000" stroke-width="1.3" stroke-linejoin="miter"/>
<polygon points="182.22,905.80 180.48,910.81 175.18,910.91 179.41,914.11 177.87,919.19 182.22,916.16 186.57,919.19 185.04,914.11 189.26,910.91 183.96,910.81" fill="#fff" stroke="#ff0000" stroke-width="1.3" stroke-linejoin="miter"/>
<polygon points="198.01,937.40 196.27,942.41 190.97,942.51 195.19,945.71 193.66,950.79 198.01,947.76 202.36,950.79 200.83,945.71 205.05,942.51 199.75,942.41" fill="#fff" stroke="#ff0000" stroke-width="1.3" stroke-linejoin="miter"/>
<polygon points="253.27,956.36 251.53,961.37 246.23,961.47 250.45,964.67 248.92,969.75 253.27,966.72 257.62,969.75 256.08,964.67 260.31,961.47 255.01,961.37" fill="#fff" stroke="#ff0000" stroke-width="1.3" stroke-linejoin="miter"/>
<polygon points="284.84,962.68 283.10,967.69 277.81,967.79 282.03,970.99 280.49,976.07 284.84,973.04 289.19,976.07 287.66,970.99 291.88,967.79 286.58,967.69" fill="#fff" stroke="#ff0000" stroke-width="1.3" stroke-linejoin="miter"/>
</g>
<rect x="80.1" y="533.0" width="591.10" height="443.20" fill="none" stroke="#000" stroke-width="1.8"/>
<line x1="71.10" y1="975.80" x2="80.10" y2="975.80" stroke="#000" stroke-width="1.8" />
<line x1="75.10" y1="912.60" x2="80.10" y2="912.60" stroke="#000" stroke-width="1.6" />
<line x1="75.10" y1="849.40" x2="80.10" y2="849.40" stroke="#000" stroke-width="1.6" />
<line x1="71.10" y1="786.20" x2="80.10" y2="786.20" stroke="#000" stroke-width="1.8" />
<line x1="75.10" y1="723.00" x2="80.10" y2="723.00" stroke="#000" stroke-width="1.6" />
<line x1="75.10" y1="659.80" x2="80.10" y2="659.80" stroke="#000" stroke-width="1.6" />
<line x1="71.10" y1="596.60" x2="80.10" y2="596.60" stroke="#000" stroke-width="1.8" />
<line x1="75.10" y1="533.40" x2="80.10" y2="533.40" stroke="#000" stroke-width="1.6" />
<line x1="79.60" y1="976.20" x2="79.60" y2="981.20" stroke="#000" stroke-width="1.6" />
<line x1="119.07" y1="976.20" x2="119.07" y2="981.20" stroke="#000" stroke-width="1.6" />
<line x1="158.54" y1="976.20" x2="158.54" y2="981.20" stroke="#000" stroke-width="1.6" />
<line x1="198.01" y1="976.20" x2="198.01" y2="985.20" stroke="#000" stroke-width="1.8" />
<line x1="237.48" y1="976.20" x2="237.48" y2="981.20" stroke="#000" stroke-width="1.6" />
<line x1="276.95" y1="976.20" x2="276.95" y2="981.20" stroke="#000" stroke-width="1.6" />
<line x1="316.42" y1="976.20" x2="316.42" y2="981.20" stroke="#000" stroke-width="1.6" />
<line x1="355.89" y1="976.20" x2="355.89" y2="981.20" stroke="#000" stroke-width="1.6" />
<line x1="395.36" y1="976.20" x2="395.36" y2="985.20" stroke="#000" stroke-width="1.8" />
<line x1="434.83" y1="976.20" x2="434.83" y2="981.20" stroke="#000" stroke-width="1.6" />
<line x1="474.30" y1="976.20" x2="474.30" y2="981.20" stroke="#000" stroke-width="1.6" />
<line x1="513.77" y1="976.20" x2="513.77" y2="981.20" stroke="#000" stroke-width="1.6" />
<line x1="553.24" y1="976.20" x2="553.24" y2="981.20" stroke="#000" stroke-width="1.6" />
<line x1="592.71" y1="976.20" x2="592.71" y2="985.20" stroke="#000" stroke-width="1.8" />
<line x1="632.18" y1="976.20" x2="632.18" y2="981.20" stroke="#000" stroke-width="1.6" />
<line x1="671.65" y1="976.20" x2="671.65" y2="981.20" stroke="#000" stroke-width="1.6" />
<text transform="translate(65.60 984.20) scale(0.93 1)" x="-13.96" y="0" font-size="27" fill="#000" stroke="#000" stroke-width="0.17" letter-spacing="-0.500" ><tspan>0</tspan></text>
<text transform="translate(65.60 794.60) scale(0.93 1)" x="-28.48" y="0" font-size="27" fill="#000" stroke="#000" stroke-width="0.17" letter-spacing="-0.500" ><tspan>30</tspan></text>
<text transform="translate(65.60 605.00) scale(0.93 1)" x="-28.48" y="0" font-size="27" fill="#000" stroke="#000" stroke-width="0.17" letter-spacing="-0.500" ><tspan>60</tspan></text>
<text transform="translate(199.91 1011.60) scale(0.93 1)" x="-14.77" y="0" font-size="27" fill="#000" stroke="#000" stroke-width="0.17" letter-spacing="-0.500" ><tspan>10</tspan></text>
<text transform="translate(397.26 1011.60) scale(0.93 1)" x="-14.77" y="0" font-size="27" fill="#000" stroke="#000" stroke-width="0.17" letter-spacing="-0.500" ><tspan>15</tspan></text>
<text transform="translate(594.61 1011.60) scale(0.93 1)" x="-14.77" y="0" font-size="27" fill="#000" stroke="#000" stroke-width="0.17" letter-spacing="-0.500" ><tspan>20</tspan></text>
<text transform="translate(346.70 1048.30) scale(0.93 1)" x="-2.45" y="0" font-size="27.3" fill="#000" stroke="#000" stroke-width="0.17" letter-spacing="1.782" ><tspan font-style="italic">T</tspan><tspan dx="1">(K)</tspan></text>
<text transform="translate(19.70 800.60) rotate(-90) scale(0.93 1)" x="-0.84" y="0" font-size="27.3" fill="#000" stroke="#000" stroke-width="0.17" letter-spacing="-0.136" ><tspan font-style="italic">H</tspan><tspan font-size="18.8" dy="7.92" dx="-1.5">c2</tspan><tspan dy="-7.92"> (kOe)</tspan></text>
<text transform="translate(109.00 568.10) scale(0.93 1)" x="-2.24" y="0" font-size="27.3" fill="#000" stroke="#000" stroke-width="0.17" letter-spacing="-0.835" ><tspan>Fe</tspan><tspan font-size="18.8" dy="7.92">0.99</tspan><tspan dy="-7.92">Te</tspan><tspan font-size="18.8" dy="7.92">0.66</tspan><tspan dy="-7.92">Se</tspan><tspan font-size="18.8" dy="7.92">0.34</tspan></text>
<text transform="translate(109.00 607.60) scale(0.93 1)" x="-2.24" y="0" font-size="27.3" fill="#000" stroke="#000" stroke-width="0.17" letter-spacing="-0.729" ><tspan>Fe</tspan><tspan font-size="18.8" dy="7.92">0.975</tspan><tspan dy="-7.92">Cu</tspan><tspan font-size="18.8" dy="7.92">0.025</tspan><tspan dy="-7.92">Te</tspan><tspan font-size="18.8" dy="7.92">0.66</tspan><tspan dy="-7.92">Se</tspan><tspan font-size="18.8" dy="7.92">0.34</tspan></text>
<line x1="286.60" y1="558.20" x2="309.40" y2="558.20" stroke="#111" stroke-width="1.0" stroke-dasharray="1.2 1.8"/>
<line x1="325.00" y1="558.20" x2="344.80" y2="558.20" stroke="#111" stroke-width="1.0" stroke-dasharray="1.2 1.8"/>
<circle cx="317.20" cy="558.20" r="5.6" fill="#000" stroke="#000" stroke-width="0.4"/>
<text transform="translate(355.30 567.90) scale(0.93 1)" x="-0.84" y="0" font-size="27.3" fill="#000" stroke="#000" stroke-width="0.17" letter-spacing="-0.596" ><tspan font-style="italic">P</tspan><tspan>=0</tspan></text>
<line x1="405.00" y1="558.70" x2="427.50" y2="558.70" stroke="#ff0000" stroke-width="1.0" stroke-dasharray="1.2 1.8"/>
<line x1="443.10" y1="558.70" x2="464.30" y2="558.70" stroke="#ff0000" stroke-width="1.0" stroke-dasharray="1.2 1.8"/>
<circle cx="435.30" cy="558.70" r="5.1" fill="#fff" stroke="#ff0000" stroke-width="1.3"/>
<text transform="translate(467.30 567.90) scale(0.93 1)" x="-1.28" y="0" font-size="27.3" fill="#000" stroke="#000" stroke-width="0.17" letter-spacing="-0.803" ><tspan>9.8 kbar</tspan></text>
<line x1="408.30" y1="598.50" x2="429.40" y2="598.50" stroke="#ff0000" stroke-width="1.0" stroke-dasharray="1.2 1.8"/>
<line x1="450.40" y1="598.50" x2="469.20" y2="598.50" stroke="#ff0000" stroke-width="1.0" stroke-dasharray="1.2 1.8"/>
<polygon points="439.90,591.60 438.16,596.61 432.86,596.71 437.08,599.91 435.55,604.99 439.90,601.96 444.25,604.99 442.72,599.91 446.94,596.71 441.64,596.61" fill="#fff" stroke="#ff0000" stroke-width="1.3" stroke-linejoin="miter"/>
<text transform="translate(473.60 606.40) scale(0.93 1)" x="-2.08" y="0" font-size="27.3" fill="#000" stroke="#000" stroke-width="0.17" letter-spacing="-1.188" ><tspan>10 kbar</tspan></text>
<text transform="translate(97.20 907.70) scale(0.93 1)" x="-2.45" y="0" font-size="38" fill="#000" stroke="#000" stroke-width="0.17" letter-spacing="1.448" ><tspan>b)</tspan></text>
<text transform="translate(535.70 940.00) scale(0.93 1)" x="-0.84" y="0" font-size="27.3" fill="#000" stroke="#000" stroke-width="0.17" letter-spacing="-0.001" ><tspan font-style="italic">H</tspan><tspan> || </tspan><tspan font-style="italic">c</tspan><tspan dx="-2.5">-axis</tspan></text>
</g>
</svg></body></html>
